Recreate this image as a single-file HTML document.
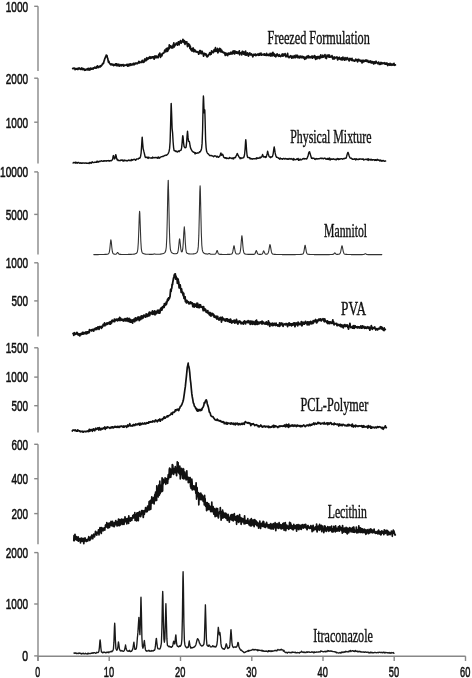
<!DOCTYPE html>
<html><head><meta charset="utf-8"><style>
html,body{margin:0;padding:0;background:#fff;}
svg{display:block;filter:grayscale(1);}
.ax line{stroke:#888;stroke-width:1.4;}
.tk text{font-family:"Liberation Sans",sans-serif;font-size:14.5px;fill:#111;stroke:#111;stroke-width:0.55;}
.lb text{font-family:"Liberation Serif",serif;font-size:19px;fill:#111;stroke:#111;stroke-width:0.4;}
.c{fill:none;stroke-linejoin:round;stroke-linecap:round;}
</style></head><body>
<svg width="472" height="678" viewBox="0 0 472 678">
<rect width="472" height="678" fill="#fff"/>
<g class="ax"><line x1="38.0" y1="6.3" x2="38.0" y2="71.1"/><line x1="38.0" y1="78.2" x2="38.0" y2="163.6"/><line x1="38.0" y1="171.9" x2="38.0" y2="254.6"/><line x1="38.0" y1="262.8" x2="38.0" y2="336.4"/><line x1="38.0" y1="347.8" x2="38.0" y2="432.6"/><line x1="38.0" y1="444.3" x2="38.0" y2="544.3"/><line x1="38.0" y1="552.6" x2="38.0" y2="661"/><line x1="34.2" y1="6.3" x2="38.0" y2="6.3"/><line x1="34.2" y1="78.2" x2="38.0" y2="78.2"/><line x1="34.2" y1="122.2" x2="38.0" y2="122.2"/><line x1="34.2" y1="171.9" x2="38.0" y2="171.9"/><line x1="34.2" y1="214.4" x2="38.0" y2="214.4"/><line x1="34.2" y1="262.8" x2="38.0" y2="262.8"/><line x1="34.2" y1="300.9" x2="38.0" y2="300.9"/><line x1="34.2" y1="347.8" x2="38.0" y2="347.8"/><line x1="34.2" y1="377.1" x2="38.0" y2="377.1"/><line x1="34.2" y1="405.7" x2="38.0" y2="405.7"/><line x1="34.2" y1="444.3" x2="38.0" y2="444.3"/><line x1="34.2" y1="478.7" x2="38.0" y2="478.7"/><line x1="34.2" y1="513.6" x2="38.0" y2="513.6"/><line x1="34.2" y1="552.6" x2="38.0" y2="552.6"/><line x1="34.2" y1="604" x2="38.0" y2="604"/><line x1="34.2" y1="655.9" x2="38.0" y2="655.9"/><line x1="38.0" y1="656.2" x2="465.6" y2="656.2"/><line x1="38.0" y1="656.2" x2="38.0" y2="661"/><line x1="109.2" y1="656.2" x2="109.2" y2="661"/><line x1="180.5" y1="656.2" x2="180.5" y2="661"/><line x1="251.8" y1="656.2" x2="251.8" y2="661"/><line x1="323.0" y1="656.2" x2="323.0" y2="661"/><line x1="394.2" y1="656.2" x2="394.2" y2="661"/><line x1="465.5" y1="656.2" x2="465.5" y2="661"/></g>
<g class="tk"><text x="5.8" y="11.6" textLength="22.3" lengthAdjust="spacingAndGlyphs">1000</text><text x="5.8" y="83.5" textLength="22.3" lengthAdjust="spacingAndGlyphs">2000</text><text x="5.8" y="127.5" textLength="22.3" lengthAdjust="spacingAndGlyphs">1000</text><text x="0.1" y="177.2" textLength="28.0" lengthAdjust="spacingAndGlyphs">10000</text><text x="5.8" y="219.7" textLength="22.3" lengthAdjust="spacingAndGlyphs">5000</text><text x="5.8" y="268.1" textLength="22.3" lengthAdjust="spacingAndGlyphs">1000</text><text x="11.5" y="306.2" textLength="16.6" lengthAdjust="spacingAndGlyphs">500</text><text x="5.8" y="353.1" textLength="22.3" lengthAdjust="spacingAndGlyphs">1500</text><text x="5.8" y="382.4" textLength="22.3" lengthAdjust="spacingAndGlyphs">1000</text><text x="11.5" y="411.0" textLength="16.6" lengthAdjust="spacingAndGlyphs">500</text><text x="11.5" y="449.6" textLength="16.6" lengthAdjust="spacingAndGlyphs">600</text><text x="11.5" y="484.0" textLength="16.6" lengthAdjust="spacingAndGlyphs">400</text><text x="11.5" y="518.9" textLength="16.6" lengthAdjust="spacingAndGlyphs">200</text><text x="5.8" y="557.9" textLength="22.3" lengthAdjust="spacingAndGlyphs">2000</text><text x="5.8" y="609.3" textLength="22.3" lengthAdjust="spacingAndGlyphs">1000</text><text x="22.3" y="661.2" textLength="5.8" lengthAdjust="spacingAndGlyphs">0</text><text x="35.3" y="676.9" textLength="4.9" lengthAdjust="spacingAndGlyphs">0</text><text x="103.8" y="676.9" textLength="10.3" lengthAdjust="spacingAndGlyphs">10</text><text x="175.1" y="676.9" textLength="10.3" lengthAdjust="spacingAndGlyphs">20</text><text x="246.3" y="676.9" textLength="10.3" lengthAdjust="spacingAndGlyphs">30</text><text x="317.6" y="676.9" textLength="10.3" lengthAdjust="spacingAndGlyphs">40</text><text x="388.8" y="676.9" textLength="10.3" lengthAdjust="spacingAndGlyphs">50</text><text x="460.1" y="676.9" textLength="10.3" lengthAdjust="spacingAndGlyphs">60</text></g>
<g class="lb"><text x="267.6" y="43.6" textLength="102.2" lengthAdjust="spacingAndGlyphs">Freezed Formulation</text><text x="290.2" y="143.0" textLength="81.3" lengthAdjust="spacingAndGlyphs">Physical Mixture</text><text x="324.1" y="237.2" textLength="43.0" lengthAdjust="spacingAndGlyphs">Mannitol</text><text x="341.1" y="314.6" textLength="24.9" lengthAdjust="spacingAndGlyphs">PVA</text><text x="300.5" y="411.4" textLength="67.7" lengthAdjust="spacingAndGlyphs">PCL-Polymer</text><text x="327.7" y="518.3" textLength="39.2" lengthAdjust="spacingAndGlyphs">Lecithin</text><text x="313.2" y="642.1" textLength="59.7" lengthAdjust="spacingAndGlyphs">Itraconazole</text></g>
<g><polyline class="c" stroke="#111" stroke-width="1.7" points="72.7,68.5 73.0,68.7 73.4,68.4 73.7,68.1 74.1,68.4 74.4,68.1 74.8,68.8 75.1,69.6 75.5,68.5 75.8,68.5 76.2,69.2 76.5,69.1 76.9,69.0 77.2,68.4 77.6,69.0 77.9,69.5 78.3,68.3 78.6,68.9 79.0,68.0 79.3,68.4 79.7,68.1 80.0,69.1 80.4,68.6 80.7,69.5 81.1,69.5 81.4,69.3 81.8,67.9 82.1,69.1 82.5,69.5 82.8,69.6 83.2,68.6 83.5,69.3 83.9,69.0 84.2,69.2 84.6,70.3 84.9,69.2 85.3,69.7 85.6,70.2 86.0,69.3 86.3,69.5 86.7,69.6 87.0,69.5 87.4,68.7 87.7,69.4 88.1,70.1 88.4,68.3 88.8,69.7 89.1,69.1 89.5,68.6 89.8,70.2 90.2,69.3 90.5,68.1 90.9,68.8 91.2,69.0 91.6,68.5 91.9,69.0 92.3,68.5 92.6,68.8 93.0,69.2 93.3,67.9 93.7,68.3 94.0,67.8 94.4,68.1 94.7,67.2 95.1,67.5 95.4,67.6 95.8,68.1 96.1,68.2 96.5,66.6 96.8,66.8 97.2,67.6 97.5,65.9 97.9,66.7 98.2,66.8 98.6,67.5 98.9,67.1 99.3,66.3 99.6,66.2 100.0,66.1 100.3,67.0 100.7,65.7 101.0,65.6 101.4,65.8 101.7,65.2 102.1,64.9 102.4,63.9 102.8,64.0 103.1,63.1 103.5,63.3 103.8,62.0 104.2,60.6 104.5,59.9 104.9,58.3 105.2,58.1 105.6,56.6 105.9,56.5 106.2,55.2 106.3,56.2 106.6,55.3 107.0,55.7 107.3,57.6 107.7,58.2 108.0,59.8 108.4,62.1 108.7,61.1 109.1,61.9 109.4,63.1 109.8,63.8 110.1,63.8 110.5,64.0 110.8,64.8 111.2,64.8 111.5,64.0 111.9,64.7 112.2,64.8 112.6,64.2 112.9,65.1 113.3,64.4 113.6,65.6 114.0,65.1 114.3,65.1 114.7,64.7 115.0,65.0 115.4,63.8 115.7,64.4 116.1,65.3 116.4,63.8 116.8,65.7 117.1,64.1 117.5,65.6 117.8,64.6 118.2,65.7 118.5,65.3 118.9,64.2 119.2,66.0 119.6,66.1 119.9,65.2 120.3,65.1 120.6,65.1 121.0,64.6 121.3,65.9 121.7,64.9 122.0,65.2 122.4,64.8 122.7,64.9 123.1,64.5 123.4,66.1 123.8,65.2 124.1,65.9 124.5,65.3 124.8,64.9 125.2,65.1 125.5,65.0 125.9,65.3 126.2,65.0 126.6,65.0 126.9,64.3 127.3,64.7 127.6,66.2 128.0,64.7 128.3,64.4 128.7,65.3 129.0,65.9 129.4,64.1 129.7,64.9 130.1,64.6 130.4,63.8 130.8,65.4 131.1,64.9 131.5,64.9 131.8,64.2 132.2,64.9 132.5,64.1 132.9,64.3 133.2,63.5 133.6,63.3 133.9,64.9 134.3,63.6 134.6,64.0 135.0,63.7 135.3,63.3 135.7,63.1 136.0,63.8 136.4,63.0 136.7,63.0 137.1,63.0 137.4,63.7 137.8,63.2 138.1,62.9 138.5,62.1 138.8,61.4 139.2,63.0 139.5,62.9 139.9,62.0 140.2,62.3 140.6,62.4 140.9,62.3 141.3,62.3 141.6,61.1 142.0,62.5 142.3,60.3 142.7,61.8 143.0,61.4 143.4,61.6 143.7,62.3 144.1,61.9 144.4,59.6 144.8,59.0 145.1,60.9 145.5,59.3 145.8,59.9 146.2,60.5 146.5,58.3 146.9,57.7 147.2,59.6 147.6,59.2 147.9,58.8 148.3,58.9 148.6,58.0 149.0,57.3 149.3,58.3 149.7,57.4 150.0,56.7 150.4,58.4 150.7,57.9 151.1,58.2 151.4,57.0 151.8,57.2 152.1,56.8 152.5,56.9 152.8,57.8 153.2,56.9 153.5,57.8 153.9,57.8 154.2,59.2 154.6,56.1 154.9,58.1 155.3,57.1 155.6,57.2 156.0,55.8 156.3,56.6 156.7,57.7 157.0,56.9 157.4,56.9 157.7,56.5 158.1,57.7 158.4,56.5 158.8,54.4 159.1,55.7 159.5,54.4 159.8,53.1 160.2,55.6 160.5,57.3 160.9,56.0 161.2,54.4 161.6,54.2 161.9,55.8 162.3,54.3 162.6,53.8 163.0,53.2 163.3,52.9 163.7,53.2 164.0,52.5 164.4,51.8 164.7,50.1 165.1,51.6 165.4,50.0 165.8,51.8 166.1,48.8 166.5,49.9 166.8,49.8 167.2,48.0 167.5,51.3 167.9,50.8 168.2,48.2 168.6,49.5 168.9,48.8 169.3,44.8 169.6,48.1 170.0,47.5 170.3,47.5 170.7,45.8 171.0,46.6 171.4,46.5 171.7,48.0 172.1,46.7 172.4,46.1 172.8,47.8 173.1,44.9 173.5,44.9 173.8,42.8 174.2,47.0 174.5,46.0 174.9,45.7 175.2,45.1 175.6,44.1 175.9,44.0 176.3,43.1 176.6,43.0 177.0,43.2 177.3,45.2 177.7,43.7 178.0,42.8 178.4,41.9 178.7,41.8 179.1,44.8 179.4,43.2 179.8,42.5 180.1,41.8 180.5,40.6 180.8,42.0 181.2,43.2 181.5,41.3 181.9,41.5 182.2,41.4 182.6,41.8 182.9,39.3 183.3,41.2 183.6,40.2 184.0,42.7 184.3,40.6 184.7,42.7 185.0,44.3 185.4,41.9 185.7,41.7 186.1,43.0 186.4,43.0 186.8,41.8 187.1,44.1 187.5,46.7 187.8,44.0 188.2,44.4 188.5,43.7 188.9,46.0 189.2,44.3 189.6,45.0 189.9,48.4 190.3,46.1 190.6,49.0 191.0,49.8 191.3,48.5 191.7,49.1 192.0,51.1 192.4,48.8 192.7,48.5 193.1,47.9 193.4,49.8 193.8,51.7 194.1,51.4 194.5,49.5 194.8,49.8 195.2,50.5 195.5,51.7 195.9,51.4 196.2,51.9 196.6,52.1 196.9,51.5 197.3,51.9 197.6,52.2 198.0,52.0 198.3,52.7 198.7,54.2 199.0,52.9 199.4,52.4 199.7,50.6 200.1,52.9 200.4,50.5 200.8,51.2 201.1,53.7 201.5,53.6 201.8,52.9 202.2,51.4 202.5,53.0 202.9,52.9 203.2,54.4 203.6,56.2 203.9,54.3 204.3,53.5 204.6,53.3 205.0,54.6 205.3,54.6 205.7,53.8 206.0,55.3 206.4,54.2 206.7,56.6 207.1,56.7 207.4,56.9 207.8,55.5 208.1,56.1 208.5,55.2 208.8,54.6 209.2,54.4 209.5,53.1 209.9,52.7 210.2,54.7 210.6,53.4 210.9,53.5 211.3,54.0 211.6,50.8 212.0,51.6 212.3,52.4 212.7,52.4 213.0,51.3 213.4,52.6 213.7,51.4 214.1,49.6 214.4,49.6 214.8,51.4 215.1,50.7 215.5,47.7 215.8,51.3 216.2,50.3 216.5,51.3 216.9,49.3 217.2,49.5 217.6,48.5 217.9,52.9 218.3,49.8 218.6,51.9 219.0,49.3 219.3,50.3 219.7,48.3 220.0,49.8 220.4,51.4 220.7,49.2 221.1,52.1 221.4,51.6 221.8,50.4 222.1,51.3 222.5,51.6 222.8,52.4 223.2,52.1 223.5,52.1 223.9,53.0 224.2,52.6 224.6,52.6 224.9,54.2 225.3,55.4 225.6,53.1 226.0,54.6 226.3,53.8 226.7,53.4 227.0,55.2 227.4,53.7 227.7,55.7 228.1,53.3 228.4,54.4 228.8,53.6 229.1,53.0 229.5,54.3 229.8,53.5 230.2,54.1 230.5,53.4 230.9,52.2 231.2,53.2 231.6,53.2 231.9,54.1 232.3,52.0 232.6,52.9 233.0,51.0 233.3,53.5 233.7,51.7 234.0,50.9 234.4,52.7 234.7,54.0 235.1,51.2 235.4,51.6 235.8,52.0 236.1,51.6 236.5,53.2 236.8,51.9 237.2,52.0 237.5,53.4 237.9,52.0 238.2,53.3 238.6,51.8 238.9,51.5 239.3,50.8 239.6,54.8 240.0,52.5 240.3,53.1 240.7,52.8 241.0,53.0 241.4,52.9 241.7,54.8 242.1,51.7 242.4,51.3 242.8,52.0 243.1,51.7 243.5,54.0 243.8,54.2 244.2,52.5 244.5,52.1 244.9,53.3 245.2,55.2 245.6,51.0 245.9,54.5 246.3,53.0 246.6,55.2 247.0,53.2 247.3,54.1 247.7,53.0 248.0,53.6 248.4,56.1 248.7,55.5 249.1,54.3 249.4,53.9 249.8,52.9 250.1,54.4 250.5,54.8 250.8,54.8 251.2,54.8 251.5,53.8 251.9,54.8 252.2,54.9 252.6,56.2 252.9,56.8 253.3,54.9 253.6,54.3 254.0,55.0 254.3,54.5 254.7,54.4 255.0,55.0 255.4,54.1 255.7,55.7 256.1,55.0 256.4,55.3 256.8,54.9 257.1,54.4 257.5,54.1 257.8,54.8 258.2,54.5 258.5,55.3 258.9,55.1 259.2,53.7 259.6,55.1 259.9,53.7 260.3,54.4 260.6,54.7 261.0,53.0 261.3,55.1 261.7,55.2 262.0,54.9 262.4,54.6 262.7,54.6 263.1,54.1 263.4,54.7 263.8,54.5 264.1,55.1 264.5,53.8 264.8,55.2 265.2,55.1 265.5,54.8 265.9,54.6 266.2,55.5 266.6,53.3 266.9,55.4 267.3,55.2 267.6,55.2 268.0,55.3 268.3,54.3 268.7,54.7 269.0,55.6 269.4,55.4 269.7,55.1 270.1,53.4 270.4,55.5 270.8,56.1 271.1,55.9 271.5,55.2 271.8,53.4 272.2,55.8 272.5,54.8 272.9,52.4 273.2,55.3 273.6,53.4 273.9,53.6 274.3,54.3 274.6,56.2 275.0,54.6 275.3,55.3 275.7,56.8 276.0,56.6 276.4,55.0 276.7,54.9 277.1,53.9 277.4,54.5 277.8,55.6 278.1,55.6 278.5,55.4 278.8,56.3 279.2,54.6 279.5,55.3 279.9,56.1 280.2,56.0 280.6,56.5 280.9,55.8 281.3,55.2 281.6,55.9 282.0,54.6 282.3,54.0 282.7,56.2 283.0,55.6 283.4,55.9 283.7,54.0 284.1,55.4 284.4,55.2 284.8,54.9 285.1,53.6 285.5,55.5 285.8,56.7 286.2,56.2 286.5,55.3 286.9,55.9 287.2,56.7 287.6,53.4 287.9,55.9 288.3,56.5 288.6,56.7 289.0,57.7 289.3,57.2 289.7,56.4 290.0,56.5 290.4,56.9 290.7,55.7 291.1,56.2 291.4,57.1 291.8,58.1 292.1,56.2 292.5,56.3 292.8,56.6 293.2,57.7 293.5,56.4 293.9,57.8 294.2,55.6 294.6,56.4 294.9,56.4 295.3,57.3 295.6,57.6 296.0,55.2 296.3,55.8 296.7,57.0 297.0,56.1 297.4,55.3 297.7,57.7 298.1,57.3 298.4,57.3 298.8,56.4 299.1,57.8 299.5,56.7 299.8,57.9 300.2,56.1 300.5,56.2 300.9,57.2 301.2,56.4 301.6,57.7 301.9,57.3 302.3,56.3 302.6,57.2 303.0,56.9 303.3,58.0 303.7,56.7 304.0,56.9 304.4,58.4 304.7,59.3 305.1,59.1 305.4,57.3 305.8,57.5 306.1,58.6 306.5,57.1 306.8,56.3 307.2,57.3 307.5,57.6 307.9,56.4 308.2,55.7 308.6,55.9 308.9,57.8 309.3,56.5 309.6,57.0 310.0,57.3 310.3,57.7 310.7,56.8 311.0,57.6 311.4,56.3 311.7,56.8 312.1,56.1 312.4,58.1 312.8,57.0 313.1,56.4 313.5,56.7 313.8,56.8 314.2,57.6 314.5,55.5 314.9,56.0 315.2,56.6 315.6,59.3 315.9,57.8 316.3,56.8 316.6,57.6 317.0,58.8 317.3,56.7 317.7,56.6 318.0,58.0 318.4,57.3 318.7,57.5 319.1,56.4 319.4,58.6 319.8,58.4 320.1,57.4 320.5,57.5 320.8,54.9 321.2,57.4 321.5,56.6 321.9,57.2 322.2,57.4 322.6,56.4 322.9,55.2 323.3,57.1 323.6,56.0 324.0,56.4 324.3,56.1 324.7,56.4 325.0,54.5 325.4,57.8 325.7,56.9 326.1,57.7 326.4,58.5 326.8,56.7 327.1,55.0 327.5,55.8 327.8,55.5 328.2,56.2 328.5,56.8 328.9,54.9 329.2,57.1 329.6,55.4 329.9,57.1 330.3,56.8 330.6,56.7 331.0,57.0 331.3,56.6 331.7,56.6 332.0,55.6 332.4,57.2 332.7,58.9 333.1,59.1 333.4,58.6 333.8,58.1 334.1,56.9 334.5,58.8 334.8,57.5 335.2,57.6 335.5,57.4 335.9,57.8 336.2,57.4 336.6,57.7 336.9,56.9 337.3,57.6 337.6,60.0 338.0,58.0 338.3,57.9 338.7,58.6 339.0,58.8 339.4,57.2 339.7,58.1 340.1,59.1 340.4,58.6 340.8,58.5 341.1,59.8 341.5,57.9 341.8,58.6 342.2,58.2 342.5,59.9 342.9,57.0 343.2,58.2 343.6,58.4 343.9,59.4 344.3,59.4 344.6,60.1 345.0,57.7 345.3,59.7 345.7,58.9 346.0,58.6 346.4,59.7 346.7,58.5 347.1,57.6 347.4,59.0 347.8,58.2 348.1,58.9 348.5,59.8 348.8,59.8 349.2,60.9 349.5,59.5 349.9,58.4 350.2,59.1 350.6,59.1 350.9,58.9 351.3,60.3 351.6,59.4 352.0,58.4 352.3,60.6 352.7,60.0 353.0,60.4 353.4,60.2 353.7,60.7 354.1,60.2 354.4,61.2 354.8,60.6 355.1,60.6 355.5,60.7 355.8,59.2 356.2,60.3 356.5,60.3 356.9,60.7 357.2,59.5 357.6,61.9 357.9,60.7 358.3,59.7 358.6,59.3 359.0,60.5 359.3,60.7 359.7,60.2 360.0,60.9 360.4,60.4 360.7,61.3 361.1,60.4 361.4,60.9 361.8,61.8 362.1,63.0 362.5,60.3 362.8,60.7 363.2,60.5 363.5,61.8 363.9,60.3 364.2,60.9 364.6,61.3 364.9,60.6 365.3,60.6 365.6,61.0 366.0,59.8 366.3,60.4 366.7,61.2 367.0,61.6 367.4,61.4 367.7,60.3 368.1,61.3 368.4,62.3 368.8,62.1 369.1,61.7 369.5,61.1 369.8,62.3 370.2,61.4 370.5,61.0 370.9,61.3 371.2,63.0 371.6,62.2 371.9,62.9 372.3,61.7 372.6,62.8 373.0,61.7 373.3,62.1 373.7,64.0 374.0,62.8 374.4,61.9 374.7,62.3 375.1,62.6 375.4,63.3 375.8,62.1 376.1,61.2 376.5,62.3 376.8,62.6 377.2,62.7 377.5,63.6 377.9,62.9 378.2,63.3 378.6,62.0 378.9,63.4 379.3,64.4 379.6,63.5 380.0,63.1 380.3,63.1 380.7,64.3 381.0,62.4 381.4,63.1 381.7,63.5 382.1,63.7 382.4,63.0 382.8,63.5 383.1,63.2 383.5,63.5 383.8,63.3 384.2,62.7 384.5,63.5 384.9,64.2 385.2,63.0 385.6,63.5 385.9,64.2 386.3,63.0 386.6,63.9 387.0,63.1 387.3,64.6 387.7,65.5 388.0,65.3 388.4,63.9 388.7,64.5 389.1,64.2 389.4,64.2 389.8,65.2 390.1,63.4 390.5,65.0 390.8,64.3 391.2,65.3 391.5,64.5 391.9,64.0 392.2,64.7 392.6,65.0 392.9,64.6 393.3,64.9 393.6,64.3 394.0,63.3 394.3,65.3 394.7,65.2 395.0,64.9 395.4,64.9"/><polyline class="c" stroke="#111" stroke-width="1.4" points="73.1,163.0 73.6,162.5 74.1,162.4 74.6,162.6 75.1,163.1 75.6,162.2 76.1,163.2 76.6,162.5 77.1,162.4 77.6,163.2 78.1,162.8 78.6,162.4 79.1,162.8 79.6,163.2 80.1,163.3 80.6,162.8 81.1,163.1 81.6,163.3 82.1,162.8 82.6,163.2 83.1,163.1 83.6,162.9 84.1,163.0 84.6,163.2 85.1,163.2 85.6,163.0 86.1,163.0 86.6,163.4 87.1,163.1 87.6,163.3 88.1,163.3 88.6,163.0 89.1,163.6 89.6,162.4 90.1,162.9 90.6,162.5 91.1,163.2 91.6,163.1 92.1,161.8 92.6,162.0 93.1,162.6 93.6,162.6 94.1,162.5 94.6,162.1 95.1,162.3 95.6,162.3 96.1,162.0 96.6,162.3 97.1,161.1 97.6,162.1 98.1,161.4 98.6,162.0 99.1,161.5 99.6,161.2 100.1,161.6 100.6,161.1 101.1,161.0 101.6,160.7 102.1,161.1 102.6,161.2 103.1,161.3 103.6,160.8 104.1,161.2 104.6,160.8 105.1,160.7 105.6,161.0 106.1,161.2 106.6,160.7 107.1,160.7 107.6,160.8 108.1,160.8 108.6,160.5 109.1,161.2 109.6,160.7 110.1,160.9 110.6,160.5 111.1,160.8 111.6,160.6 112.1,159.9 112.6,159.6 113.1,156.3 113.4,155.6 113.6,155.8 114.1,157.9 114.6,158.9 115.1,158.1 115.6,155.1 115.8,154.6 116.1,155.7 116.6,158.0 117.1,159.8 117.6,159.5 118.1,160.6 118.6,160.3 119.1,160.4 119.6,160.6 120.1,160.7 120.6,160.2 121.1,160.0 121.6,160.3 122.1,159.9 122.6,160.3 123.1,161.2 123.6,160.2 124.1,160.8 124.6,160.1 125.1,160.7 125.6,160.4 126.1,160.5 126.6,160.7 127.1,161.1 127.6,160.5 128.1,160.5 128.6,160.1 129.1,160.6 129.6,160.2 130.1,160.5 130.6,160.2 131.1,160.7 131.6,159.4 132.1,159.9 132.6,160.2 133.1,159.7 133.6,159.5 134.1,159.6 134.6,159.2 135.1,159.6 135.6,160.3 136.1,159.8 136.6,158.9 137.1,158.9 137.6,158.9 138.1,159.2 138.6,158.4 139.1,158.2 139.6,158.4 140.1,157.8 140.6,156.2 141.1,153.1 141.6,146.1 142.1,138.1 142.2,137.1 142.6,142.3 143.1,148.3 143.6,150.3 143.8,151.2 144.1,152.4 144.6,154.5 145.1,156.8 145.6,157.5 146.1,157.2 146.6,157.3 147.1,157.7 147.6,157.3 148.1,158.4 148.6,157.1 149.1,157.6 149.6,157.9 150.1,157.9 150.6,158.0 151.1,158.0 151.6,157.8 152.1,158.3 152.6,157.1 153.1,157.8 153.6,157.5 154.1,157.8 154.6,157.8 155.1,157.4 155.6,157.4 156.1,157.9 156.6,157.7 157.1,157.3 157.6,158.2 158.1,158.3 158.6,156.9 159.1,157.5 159.6,158.2 160.1,157.5 160.6,157.2 161.1,156.9 161.6,156.6 162.1,156.6 162.6,156.3 163.1,156.6 163.6,156.1 164.1,155.9 164.6,155.4 165.1,155.6 165.6,155.1 166.1,155.1 166.6,155.2 167.1,154.6 167.6,154.2 168.1,153.6 168.6,152.6 169.1,151.2 169.6,148.4 170.1,141.8 170.6,124.5 171.1,105.0 171.2,103.4 171.6,113.0 172.1,128.3 172.6,132.8 173.1,141.7 173.6,147.6 174.1,150.6 174.6,150.8 175.1,150.7 175.6,151.4 176.1,151.0 176.6,151.7 177.1,152.0 177.6,151.8 178.1,151.0 178.6,151.0 179.1,151.7 179.6,150.9 180.1,150.5 180.6,150.4 181.1,150.1 181.6,147.9 182.1,143.1 182.6,136.6 182.8,135.6 183.1,137.2 183.6,143.1 184.1,146.6 184.6,147.2 185.1,147.8 185.6,147.6 186.1,147.2 186.6,142.6 187.1,135.6 187.5,131.2 187.6,131.7 188.1,137.9 188.6,141.3 189.1,141.5 189.3,141.4 189.6,142.7 190.1,146.0 190.6,148.1 191.1,149.1 191.6,150.2 192.1,151.0 192.6,151.7 193.1,151.7 193.6,152.3 194.1,152.1 194.6,152.7 195.1,153.9 195.6,152.6 196.1,153.2 196.6,153.3 197.1,153.1 197.6,152.8 198.1,153.0 198.6,152.8 199.1,152.6 199.6,151.7 200.1,152.0 200.6,151.1 201.1,150.2 201.6,148.4 202.1,143.4 202.6,129.8 203.1,104.7 203.4,96.0 203.6,98.4 204.1,112.9 204.6,110.6 204.8,109.9 205.1,119.7 205.6,139.7 206.1,147.6 206.6,151.3 207.1,152.5 207.6,153.5 208.1,153.6 208.6,154.3 209.1,154.9 209.6,155.5 210.1,155.7 210.6,155.5 211.1,155.6 211.6,155.5 212.1,156.0 212.6,155.9 213.1,156.3 213.6,156.7 214.1,156.2 214.6,155.8 215.1,156.1 215.6,156.0 216.1,156.2 216.6,157.1 217.1,156.8 217.6,156.3 218.1,157.1 218.6,157.3 219.1,156.7 219.6,156.3 220.1,155.6 220.6,153.8 220.9,153.0 221.1,153.5 221.6,155.2 222.1,154.9 222.5,154.3 222.6,154.2 223.1,155.3 223.6,157.0 224.1,157.6 224.6,157.6 225.1,158.2 225.6,157.8 226.1,157.7 226.6,158.6 227.1,158.3 227.6,158.2 228.1,158.5 228.6,158.6 229.1,158.3 229.6,157.4 230.1,158.0 230.6,158.1 231.1,157.9 231.6,158.4 232.1,158.7 232.6,158.1 233.1,157.8 233.6,158.9 234.1,157.9 234.6,157.5 235.1,157.7 235.6,157.2 236.1,155.9 236.6,155.2 237.1,153.7 237.3,153.5 237.6,154.1 238.1,155.4 238.6,156.1 239.1,157.2 239.6,157.5 240.1,158.8 240.6,157.7 241.1,158.4 241.6,157.9 242.1,157.9 242.6,158.1 243.1,157.9 243.6,157.7 244.1,156.6 244.6,154.2 245.1,148.8 245.6,141.0 245.8,139.7 246.1,142.8 246.6,150.7 247.1,155.5 247.6,157.4 248.1,157.6 248.6,157.4 249.1,157.7 249.6,157.8 250.1,158.9 250.6,158.2 251.1,158.9 251.6,158.8 252.1,159.2 252.6,159.0 253.1,158.6 253.6,158.6 254.1,158.7 254.6,158.8 255.1,158.5 255.6,158.6 256.1,159.1 256.6,157.8 257.1,158.4 257.6,157.9 258.1,158.2 258.6,158.3 259.1,157.9 259.6,158.1 260.1,157.1 260.6,157.9 261.1,157.1 261.6,157.1 262.1,156.2 262.6,154.4 262.7,155.0 263.1,155.8 263.6,157.0 264.1,157.0 264.6,157.1 265.1,156.6 265.6,157.5 266.1,157.3 266.6,155.9 267.1,154.0 267.6,151.3 267.8,151.8 268.1,153.2 268.6,154.9 269.1,156.6 269.6,157.1 270.1,156.8 270.6,157.7 271.1,156.8 271.6,157.0 272.1,156.9 272.6,156.2 273.1,154.1 273.6,150.7 274.1,147.3 274.2,147.0 274.6,149.2 275.1,152.7 275.6,155.1 276.1,156.4 276.6,157.3 277.1,157.2 277.6,157.6 278.1,157.6 278.6,158.4 279.1,158.5 279.6,159.2 280.1,158.0 280.6,158.4 281.1,159.0 281.6,158.6 282.1,158.6 282.6,159.3 283.1,158.7 283.6,158.4 284.1,158.4 284.6,159.0 285.1,159.0 285.6,158.4 286.1,158.6 286.6,159.1 287.1,159.2 287.6,158.7 288.1,159.2 288.6,159.2 289.1,158.4 289.6,158.9 290.1,159.2 290.6,158.9 291.1,158.4 291.6,159.0 292.1,159.4 292.6,159.7 293.1,158.4 293.6,160.1 294.1,158.8 294.6,159.6 295.1,159.7 295.6,159.6 296.1,159.3 296.6,158.9 297.1,159.5 297.6,159.1 298.1,158.4 298.6,160.3 299.1,159.6 299.6,160.0 300.1,159.0 300.6,159.9 301.1,159.9 301.6,159.9 302.1,159.3 302.6,158.8 303.1,159.1 303.6,158.4 304.1,158.5 304.6,159.0 305.1,158.6 305.6,158.7 306.1,158.6 306.6,159.0 307.1,158.3 307.6,156.9 308.1,155.9 308.6,153.3 309.1,151.9 309.3,152.1 309.6,151.7 310.1,153.8 310.6,155.3 311.1,157.1 311.6,158.4 312.1,157.9 312.6,158.5 313.1,158.2 313.6,158.2 314.1,158.2 314.6,159.2 315.1,159.5 315.6,158.9 316.1,158.5 316.6,159.0 317.1,158.6 317.6,159.0 318.1,158.8 318.6,158.8 319.1,158.9 319.6,158.5 320.1,158.5 320.6,158.1 321.1,158.5 321.6,158.2 322.1,158.6 322.6,158.3 323.1,158.6 323.6,158.8 324.1,158.1 324.6,158.3 325.1,158.2 325.6,158.9 326.1,159.3 326.6,159.0 327.1,158.6 327.6,159.3 328.1,158.3 328.6,159.4 329.1,158.7 329.6,158.0 330.1,160.0 330.6,159.6 331.1,158.8 331.6,159.2 332.1,159.1 332.6,159.3 333.1,158.7 333.6,159.0 334.1,159.4 334.6,159.3 335.1,159.6 335.6,159.2 336.1,160.0 336.6,158.9 337.1,159.3 337.6,158.5 338.1,158.7 338.6,159.6 339.1,158.8 339.6,159.3 340.1,159.1 340.6,158.7 341.1,158.9 341.6,158.8 342.1,158.8 342.6,159.2 343.1,159.1 343.6,158.6 344.1,158.4 344.6,158.7 345.1,158.3 345.6,158.4 346.1,158.2 346.6,156.5 347.1,154.6 347.6,153.0 347.9,152.4 348.1,152.5 348.6,153.9 349.1,155.7 349.6,156.9 350.1,158.1 350.6,158.1 351.1,158.4 351.6,158.2 352.1,159.2 352.6,158.9 353.1,159.4 353.6,159.1 354.1,159.4 354.6,158.8 355.1,159.2 355.6,159.9 356.1,158.6 356.6,159.4 357.1,159.6 357.6,159.2 358.1,159.4 358.6,159.6 359.1,158.9 359.6,159.3 360.1,158.9 360.6,159.0 361.1,159.0 361.6,159.2 362.1,159.3 362.6,159.4 363.1,158.8 363.6,160.0 364.1,159.8 364.6,159.6 365.1,159.2 365.6,159.4 366.1,159.6 366.6,159.6 367.1,158.8 367.6,159.7 368.1,160.5 368.6,158.8 369.1,159.9 369.6,159.7 370.1,159.5 370.6,160.1 371.1,159.2 371.6,159.7 372.1,160.2 372.6,159.7 373.1,159.6 373.6,159.9 374.1,159.7 374.6,160.5 375.1,159.7 375.6,160.3 376.1,159.6 376.6,160.4 377.1,160.1 377.6,159.3 378.1,160.3 378.6,159.9 379.1,160.2 379.6,161.0 380.1,160.0 380.6,160.1 381.1,161.1 381.6,160.6 382.1,161.2 382.6,160.8 383.1,160.4 383.6,160.8 384.1,161.3 384.6,161.2 385.1,160.9 385.6,161.0"/><polyline class="c" stroke="#333" stroke-width="1.1" points="93.8,254.6 94.3,254.6 94.8,254.6 95.3,254.6 95.8,254.6 96.3,254.6 96.8,254.6 97.3,254.6 97.8,254.6 98.3,254.6 98.8,254.5 99.3,254.5 99.8,254.5 100.3,254.5 100.8,254.5 101.3,254.5 101.8,254.5 102.3,254.5 102.8,254.5 103.3,254.5 103.8,254.5 104.3,254.5 104.8,254.4 105.3,254.4 105.8,254.4 106.3,254.4 106.8,254.3 107.3,254.2 107.8,254.1 108.3,253.9 108.8,253.4 109.3,252.2 109.8,249.1 110.3,244.0 110.8,239.9 110.9,239.8 111.3,241.9 111.8,247.2 112.3,251.2 112.8,253.1 113.3,253.7 113.8,254.0 114.3,254.1 114.8,254.2 115.3,254.2 115.8,254.2 116.3,254.0 116.8,253.4 117.3,252.7 117.6,252.5 117.8,252.6 118.3,253.3 118.8,254.0 119.3,254.3 119.8,254.4 120.3,254.4 120.8,254.4 121.3,254.5 121.8,254.5 122.3,254.5 122.8,254.5 123.3,254.5 123.8,254.5 124.3,254.5 124.8,254.5 125.3,254.5 125.8,254.5 126.3,254.5 126.8,254.5 127.3,254.5 127.8,254.5 128.3,254.4 128.8,254.4 129.3,254.4 129.8,254.4 130.3,254.4 130.8,254.4 131.3,254.4 131.8,254.3 132.3,254.3 132.8,254.3 133.3,254.2 133.8,254.1 134.3,254.1 134.8,254.0 135.3,253.8 135.8,253.6 136.3,253.4 136.8,252.9 137.3,252.0 137.8,249.5 138.3,242.8 138.8,229.9 139.3,215.0 139.6,211.3 139.8,213.0 140.3,226.7 140.8,240.7 141.3,248.6 141.8,251.6 142.3,252.8 142.8,253.3 143.3,253.6 143.8,253.8 144.3,253.9 144.8,254.0 145.3,254.1 145.8,254.2 146.3,254.2 146.8,254.3 147.3,254.3 147.8,254.3 148.3,254.3 148.8,254.3 149.3,254.4 149.8,254.4 150.3,254.4 150.8,254.4 151.3,254.4 151.8,254.4 152.3,254.4 152.8,254.3 153.3,254.3 153.8,254.1 154.3,254.0 154.6,253.9 154.8,253.9 155.3,254.1 155.8,254.2 156.3,254.3 156.8,254.3 157.3,254.3 157.8,254.3 158.3,254.3 158.8,254.2 159.3,254.2 159.8,254.2 160.3,254.1 160.8,254.1 161.3,254.0 161.8,253.9 162.3,253.8 162.8,253.7 163.3,253.5 163.8,253.3 164.3,253.0 164.8,252.6 165.3,251.9 165.8,250.5 166.3,247.0 166.8,237.5 167.3,217.4 167.8,190.8 168.2,180.2 168.3,180.9 168.8,201.2 169.3,226.7 169.8,242.3 170.3,248.8 170.8,251.1 171.3,252.1 171.8,252.7 172.3,253.0 172.8,253.3 173.3,253.5 173.8,253.6 174.3,253.7 174.8,253.7 175.3,253.7 175.8,253.7 176.3,253.6 176.8,253.5 177.3,253.2 177.8,252.3 178.3,250.0 178.8,245.4 179.3,240.2 179.6,238.9 179.8,239.5 180.3,244.1 180.8,248.9 181.3,251.4 181.8,252.0 182.3,251.4 182.8,248.7 183.3,242.2 183.8,232.5 184.3,226.8 184.8,232.6 185.3,242.4 185.8,249.0 186.3,251.9 186.8,253.0 187.3,253.4 187.8,253.6 188.3,253.8 188.8,253.9 189.3,253.9 189.8,254.0 190.3,254.0 190.8,254.0 191.3,254.0 191.8,254.0 192.3,254.0 192.8,254.0 193.3,253.9 193.8,253.9 194.3,253.8 194.8,253.7 195.3,253.5 195.8,253.3 196.3,253.0 196.8,252.6 197.3,251.9 197.8,250.4 198.3,246.4 198.8,235.9 199.3,215.4 199.8,191.7 200.1,185.9 200.3,188.6 200.8,210.3 201.3,232.6 201.8,245.0 202.3,249.9 202.8,251.7 203.3,252.5 203.8,253.0 204.3,253.3 204.8,253.6 205.3,253.7 205.8,253.9 206.3,253.9 206.8,254.0 207.3,254.1 207.8,254.0 208.3,253.9 208.8,253.6 209.2,253.5 209.3,253.5 209.8,253.8 210.3,254.1 210.8,254.2 211.3,254.3 211.8,254.3 212.3,254.3 212.8,254.3 213.3,254.3 213.8,254.3 214.3,254.3 214.8,254.3 215.3,254.1 215.8,253.6 216.3,252.5 216.8,250.9 217.1,250.5 217.3,250.7 217.8,252.2 218.3,253.5 218.8,254.1 219.3,254.3 219.8,254.4 220.3,254.4 220.8,254.4 221.3,254.4 221.8,254.4 222.3,254.5 222.8,254.5 223.3,254.5 223.8,254.5 224.3,254.5 224.8,254.5 225.3,254.5 225.8,254.5 226.3,254.5 226.8,254.5 227.3,254.4 227.8,254.4 228.3,254.4 228.8,254.4 229.3,254.4 229.8,254.4 230.3,254.3 230.8,254.2 231.3,254.1 231.8,253.9 232.3,253.3 232.8,251.7 233.3,248.9 233.8,246.1 234.0,245.8 234.3,246.5 234.8,249.5 235.3,252.1 235.8,253.4 236.3,253.9 236.8,254.0 237.3,254.0 237.8,254.0 238.3,254.0 238.8,253.9 239.3,253.6 239.8,253.1 240.3,251.4 240.8,247.5 241.3,241.0 241.8,235.9 241.9,235.7 242.3,238.4 242.8,245.1 243.3,250.2 243.8,252.6 244.3,253.5 244.8,253.9 245.3,254.0 245.8,254.2 246.3,254.2 246.8,254.3 247.3,254.3 247.8,254.4 248.3,254.4 248.8,254.4 249.3,254.4 249.8,254.4 250.3,254.4 250.8,254.4 251.3,254.4 251.8,254.4 252.3,254.4 252.8,254.4 253.3,254.4 253.8,254.4 254.3,254.3 254.8,253.9 255.3,253.1 255.8,251.5 256.3,250.5 256.8,251.5 257.3,253.1 257.8,253.9 258.3,254.2 258.8,254.3 259.3,254.4 259.8,254.4 260.3,254.4 260.8,254.4 261.3,254.3 261.8,254.2 262.3,253.9 262.8,253.0 263.3,251.5 263.7,250.9 263.8,250.9 264.3,252.1 264.8,253.3 265.3,254.0 265.8,254.1 266.3,254.2 266.8,254.1 267.3,254.0 267.8,253.6 268.3,252.7 268.8,250.7 269.3,247.6 269.8,244.9 270.0,244.6 270.3,245.3 270.8,248.3 271.3,251.2 271.8,253.0 272.3,253.8 272.8,254.1 273.3,254.2 273.8,254.3 274.3,254.4 274.8,254.4 275.3,254.4 275.8,254.5 276.3,254.5 276.8,254.5 277.3,254.5 277.8,254.5 278.3,254.5 278.8,254.5 279.3,254.5 279.8,254.5 280.3,254.5 280.8,254.5 281.3,254.5 281.8,254.5 282.3,254.6 282.8,254.6 283.3,254.6 283.8,254.6 284.3,254.6 284.8,254.6 285.3,254.6 285.8,254.6 286.3,254.6 286.8,254.6 287.3,254.6 287.8,254.6 288.3,254.6 288.8,254.6 289.3,254.6 289.8,254.6 290.3,254.6 290.8,254.6 291.3,254.6 291.8,254.6 292.3,254.6 292.8,254.6 293.3,254.6 293.8,254.6 294.3,254.6 294.8,254.6 295.3,254.6 295.8,254.5 296.3,254.5 296.8,254.5 297.3,254.5 297.8,254.5 298.3,254.5 298.8,254.5 299.3,254.5 299.8,254.5 300.3,254.5 300.8,254.4 301.3,254.4 301.8,254.3 302.3,254.2 302.8,254.0 303.3,253.5 303.8,252.1 304.3,249.3 304.8,246.1 305.1,245.3 305.3,245.7 305.8,248.6 306.3,251.6 306.8,253.3 307.3,254.0 307.8,254.2 308.3,254.3 308.8,254.4 309.3,254.4 309.8,254.5 310.3,254.5 310.8,254.5 311.3,254.5 311.8,254.5 312.3,254.5 312.8,254.5 313.3,254.5 313.8,254.5 314.3,254.6 314.8,254.6 315.3,254.6 315.8,254.6 316.3,254.6 316.8,254.6 317.3,254.6 317.8,254.6 318.3,254.6 318.8,254.6 319.3,254.6 319.8,254.6 320.3,254.6 320.8,254.6 321.3,254.6 321.8,254.6 322.3,254.6 322.8,254.6 323.3,254.6 323.8,254.6 324.3,254.6 324.8,254.6 325.3,254.6 325.8,254.6 326.3,254.6 326.8,254.6 327.3,254.6 327.8,254.6 328.3,254.6 328.8,254.6 329.3,254.6 329.8,254.5 330.3,254.5 330.8,254.5 331.3,254.5 331.8,254.5 332.3,254.5 332.8,254.4 333.3,254.3 333.8,254.0 334.3,253.3 334.8,252.9 335.3,253.3 335.8,253.9 336.3,254.3 336.8,254.4 337.3,254.4 337.8,254.4 338.3,254.3 338.8,254.2 339.3,254.1 339.8,253.8 340.3,253.0 340.8,251.2 341.3,248.5 341.8,246.1 342.0,245.8 342.3,246.4 342.8,249.1 343.3,251.6 343.8,253.2 344.3,253.9 344.8,254.2 345.3,254.3 345.8,254.4 346.3,254.4 346.8,254.4 347.3,254.5 347.8,254.5 348.3,254.5 348.8,254.5 349.3,254.5 349.8,254.5 350.3,254.5 350.8,254.5 351.3,254.6 351.8,254.6 352.3,254.6 352.8,254.6 353.3,254.6 353.8,254.6 354.3,254.6 354.8,254.6 355.3,254.6 355.8,254.6 356.3,254.6 356.8,254.6 357.3,254.6 357.8,254.6 358.3,254.6 358.8,254.6 359.3,254.6 359.8,254.6 360.3,254.6 360.8,254.6 361.3,254.6 361.8,254.6 362.3,254.6 362.8,254.5 363.3,254.5 363.8,254.4 364.3,254.2 364.8,253.9 365.3,253.6 365.8,253.9 366.3,254.2 366.8,254.5 367.3,254.5 367.8,254.6 368.3,254.6 368.8,254.6 369.3,254.6 369.8,254.6 370.3,254.6 370.8,254.6 371.3,254.6 371.8,254.6 372.3,254.6 372.8,254.6 373.3,254.6 373.8,254.6 374.3,254.6 374.8,254.6 375.3,254.6 375.8,254.6 376.3,254.6 376.8,254.6 377.3,254.6 377.8,254.6 378.3,254.6 378.8,254.6 379.3,254.6 379.8,254.6 380.3,254.6 380.8,254.6 381.3,254.6 381.8,254.6"/><polyline class="c" stroke="#111" stroke-width="1.8" points="73.1,333.6 73.4,333.2 73.8,335.4 74.1,333.8 74.5,332.8 74.8,333.4 75.2,334.4 75.5,334.4 75.9,333.7 76.2,333.3 76.6,333.9 76.9,332.4 77.3,332.8 77.6,334.6 78.0,333.5 78.3,334.3 78.7,335.0 79.0,334.6 79.4,334.0 79.7,335.9 80.1,334.6 80.4,333.8 80.8,334.7 81.1,334.5 81.5,333.4 81.8,334.2 82.2,334.0 82.5,332.4 82.9,334.0 83.2,334.0 83.6,333.7 83.9,332.5 84.3,333.5 84.6,333.6 85.0,333.6 85.3,332.3 85.7,333.7 86.0,331.9 86.4,332.7 86.7,333.8 87.1,332.0 87.4,332.0 87.8,333.2 88.1,331.8 88.5,331.7 88.8,332.0 89.2,332.6 89.5,329.6 89.9,330.6 90.2,330.3 90.6,330.1 90.9,330.1 91.3,330.0 91.6,330.9 92.0,329.7 92.3,330.4 92.7,330.5 93.0,329.3 93.4,329.9 93.7,331.1 94.1,329.8 94.4,328.8 94.8,329.2 95.1,328.3 95.5,329.2 95.8,329.5 96.2,327.9 96.5,328.3 96.9,329.3 97.2,327.7 97.6,328.2 97.9,326.9 98.3,327.0 98.6,327.1 99.0,329.4 99.3,326.9 99.7,326.7 100.0,326.5 100.4,326.7 100.7,327.3 101.1,326.7 101.4,328.3 101.8,326.5 102.1,327.5 102.5,326.2 102.8,326.4 103.2,324.3 103.5,325.4 103.9,325.3 104.2,325.0 104.6,323.0 104.9,325.8 105.3,324.4 105.6,324.2 106.0,324.3 106.3,324.1 106.7,324.6 107.0,322.8 107.4,323.0 107.7,324.1 108.1,323.8 108.4,323.1 108.8,322.8 109.1,322.4 109.5,323.0 109.8,324.1 110.2,321.7 110.5,324.1 110.9,323.3 111.2,321.9 111.6,323.0 111.9,320.6 112.3,320.2 112.6,320.6 113.0,321.3 113.3,321.3 113.7,321.0 114.0,321.5 114.4,319.1 114.7,321.7 115.1,319.6 115.4,320.2 115.8,320.4 116.1,319.5 116.5,319.1 116.8,319.4 117.2,320.3 117.5,320.8 117.9,320.7 118.2,318.9 118.6,319.0 118.9,318.8 119.3,320.1 119.6,317.3 120.0,320.7 120.3,318.7 120.7,318.3 121.0,319.4 121.4,320.0 121.7,319.4 122.1,320.2 122.4,319.3 122.8,320.6 123.1,320.7 123.5,319.3 123.8,321.1 124.2,319.8 124.5,319.8 124.9,318.8 125.2,319.6 125.6,320.8 125.9,318.7 126.3,320.9 126.6,320.6 127.0,320.6 127.3,318.2 127.7,320.4 128.0,321.3 128.4,319.9 128.7,320.9 129.1,318.5 129.4,321.7 129.8,320.4 130.1,322.1 130.5,319.4 130.8,322.1 131.2,321.1 131.5,322.0 131.9,320.1 132.2,320.3 132.6,323.1 132.9,319.8 133.3,319.7 133.6,320.1 134.0,319.1 134.3,321.3 134.7,321.7 135.0,319.0 135.4,317.8 135.7,320.7 136.1,320.5 136.4,320.1 136.8,320.3 137.1,318.0 137.5,318.6 137.8,317.2 138.2,317.0 138.5,319.4 138.9,317.5 139.2,320.6 139.6,318.0 139.9,317.1 140.3,318.6 140.6,319.5 141.0,318.0 141.3,316.0 141.7,317.6 142.0,318.6 142.4,316.4 142.7,316.0 143.1,317.9 143.4,316.8 143.8,315.2 144.1,315.9 144.5,315.4 144.8,316.5 145.2,316.1 145.5,317.2 145.9,316.6 146.2,313.9 146.6,316.0 146.9,316.4 147.3,315.8 147.6,316.4 148.0,314.4 148.3,313.8 148.7,315.9 149.0,313.5 149.4,312.1 149.7,315.6 150.1,313.5 150.4,313.9 150.8,312.5 151.1,312.4 151.5,312.5 151.8,313.3 152.2,314.1 152.5,310.8 152.9,314.3 153.2,311.9 153.6,311.9 153.9,313.9 154.3,312.8 154.6,311.0 155.0,314.9 155.3,311.5 155.7,312.6 156.0,312.4 156.4,313.7 156.7,311.3 157.1,312.9 157.4,310.5 157.8,312.6 158.1,310.2 158.5,310.5 158.8,313.1 159.2,311.0 159.5,310.5 159.9,313.0 160.2,310.4 160.6,308.6 160.9,310.3 161.3,307.6 161.6,310.2 162.0,310.0 162.3,307.4 162.7,307.0 163.0,307.8 163.4,307.3 163.7,305.7 164.1,307.4 164.4,303.6 164.8,305.5 165.1,305.2 165.5,304.8 165.8,304.9 166.2,302.2 166.5,304.0 166.9,302.3 167.2,301.0 167.6,299.3 167.9,298.9 168.3,300.5 168.6,297.9 169.0,298.8 169.3,298.8 169.7,297.3 170.0,296.6 170.4,292.2 170.7,289.4 171.1,291.3 171.4,288.6 171.8,288.2 172.1,284.4 172.5,284.7 172.8,282.2 173.2,280.1 173.5,278.2 173.9,276.9 174.2,275.4 174.6,274.3 174.9,276.0 175.3,273.8 175.6,279.0 176.0,276.2 176.3,279.0 176.7,277.8 177.0,278.3 177.4,283.4 177.7,280.0 178.1,279.1 178.4,281.0 178.8,282.5 179.1,287.8 179.5,285.2 179.8,287.4 180.2,284.9 180.5,288.1 180.9,289.5 181.2,292.3 181.6,289.0 181.9,292.2 182.3,292.9 182.6,292.0 183.0,294.7 183.3,295.6 183.7,293.4 184.0,298.3 184.4,298.7 184.7,297.7 185.1,296.9 185.4,301.5 185.8,300.2 186.1,301.8 186.5,302.8 186.8,300.5 187.2,302.6 187.5,301.2 187.9,301.7 188.2,301.8 188.6,302.1 188.9,303.9 189.3,302.6 189.6,302.4 190.0,302.4 190.3,303.5 190.7,301.9 191.0,302.7 191.4,303.5 191.7,302.9 192.1,303.7 192.4,303.0 192.8,306.7 193.1,305.8 193.5,304.6 193.8,304.0 194.2,307.1 194.5,304.6 194.9,304.0 195.2,304.6 195.6,304.7 195.9,306.2 196.3,304.3 196.6,307.2 197.0,303.2 197.3,305.6 197.7,303.5 198.0,307.5 198.4,304.9 198.7,305.4 199.1,307.0 199.4,307.6 199.8,304.7 200.1,306.0 200.5,304.8 200.8,307.0 201.2,307.0 201.5,306.9 201.9,306.6 202.2,307.3 202.6,307.2 202.9,309.1 203.3,310.7 203.6,306.6 204.0,309.2 204.3,309.1 204.7,310.5 205.0,309.0 205.4,310.4 205.7,309.6 206.1,312.0 206.4,311.6 206.8,311.5 207.1,312.5 207.5,311.9 207.8,310.6 208.2,313.4 208.5,313.2 208.9,312.9 209.2,314.4 209.6,314.9 209.9,312.4 210.3,313.0 210.6,315.9 211.0,316.0 211.3,313.7 211.7,313.4 212.0,314.2 212.4,314.6 212.7,313.5 213.1,315.6 213.4,314.3 213.8,314.6 214.1,317.1 214.5,315.5 214.8,316.3 215.2,317.2 215.5,317.6 215.9,316.4 216.2,317.0 216.6,316.2 216.9,319.2 217.3,318.1 217.6,316.3 218.0,317.7 218.3,318.6 218.7,318.5 219.0,320.1 219.4,319.8 219.7,317.8 220.1,318.5 220.4,317.3 220.8,319.1 221.1,319.2 221.5,322.0 221.8,319.4 222.2,317.2 222.5,318.9 222.9,319.8 223.2,318.5 223.6,318.9 223.9,319.5 224.3,320.3 224.6,319.8 225.0,319.1 225.3,321.0 225.7,319.6 226.0,319.7 226.4,318.9 226.7,319.6 227.1,321.1 227.4,318.8 227.8,320.5 228.1,321.4 228.5,320.3 228.8,321.0 229.2,319.7 229.5,322.2 229.9,322.1 230.2,321.2 230.6,319.2 230.9,320.0 231.3,322.2 231.6,323.0 232.0,321.6 232.3,322.6 232.7,320.8 233.0,321.3 233.4,321.5 233.7,322.0 234.1,320.1 234.4,322.7 234.8,323.1 235.1,320.7 235.5,320.5 235.8,322.3 236.2,321.3 236.5,319.5 236.9,322.8 237.2,322.1 237.6,321.5 237.9,324.1 238.3,322.2 238.6,321.3 239.0,322.1 239.3,321.0 239.7,321.3 240.0,322.5 240.4,321.5 240.7,321.7 241.1,323.8 241.4,323.0 241.8,323.0 242.1,322.7 242.5,322.7 242.8,323.7 243.2,322.2 243.5,324.1 243.9,321.3 244.2,322.0 244.6,320.9 244.9,321.9 245.3,322.8 245.6,323.8 246.0,321.7 246.3,322.4 246.7,322.0 247.0,321.6 247.4,321.2 247.7,322.5 248.1,320.7 248.4,322.5 248.8,322.5 249.1,321.8 249.5,321.5 249.8,321.1 250.2,324.4 250.5,321.1 250.9,324.0 251.2,323.1 251.6,322.1 251.9,321.3 252.3,323.5 252.6,324.2 253.0,321.5 253.3,322.1 253.7,323.5 254.0,322.8 254.4,324.4 254.7,321.8 255.1,322.9 255.4,321.1 255.8,324.5 256.1,321.6 256.5,320.2 256.8,322.2 257.2,322.2 257.5,324.3 257.9,322.0 258.2,322.3 258.6,322.9 258.9,323.9 259.3,322.3 259.6,323.4 260.0,322.8 260.3,322.0 260.7,322.5 261.0,322.5 261.4,321.6 261.7,323.8 262.1,321.2 262.4,323.8 262.8,323.7 263.1,322.7 263.5,322.1 263.8,322.7 264.2,323.4 264.5,323.8 264.9,323.4 265.2,324.1 265.6,322.7 265.9,323.5 266.3,321.8 266.6,324.1 267.0,323.6 267.3,323.1 267.7,324.7 268.0,324.3 268.4,320.9 268.7,323.8 269.1,322.4 269.4,324.9 269.8,326.3 270.1,323.5 270.5,324.1 270.8,323.8 271.2,324.4 271.5,324.7 271.9,325.4 272.2,323.2 272.6,325.7 272.9,323.3 273.3,324.5 273.6,325.4 274.0,325.0 274.3,323.4 274.7,323.6 275.0,323.9 275.4,324.3 275.7,325.5 276.1,323.2 276.4,324.9 276.8,325.1 277.1,325.0 277.5,325.0 277.8,326.0 278.2,325.0 278.5,325.4 278.9,325.2 279.2,326.4 279.6,322.9 279.9,325.9 280.3,324.5 280.6,324.5 281.0,323.9 281.3,323.0 281.7,324.5 282.0,324.2 282.4,325.4 282.7,323.5 283.1,326.3 283.4,325.2 283.8,324.8 284.1,324.3 284.5,324.2 284.8,323.9 285.2,324.4 285.5,324.9 285.9,324.7 286.2,323.5 286.6,324.5 286.9,323.9 287.3,324.9 287.6,326.5 288.0,325.3 288.3,324.4 288.7,323.1 289.0,323.3 289.4,323.0 289.7,325.3 290.1,323.8 290.4,324.6 290.8,323.9 291.1,324.6 291.5,325.8 291.8,323.8 292.2,324.1 292.5,323.6 292.9,325.2 293.2,323.3 293.6,323.2 293.9,322.9 294.3,322.9 294.6,324.7 295.0,326.7 295.3,323.2 295.7,325.1 296.0,324.3 296.4,323.0 296.7,323.8 297.1,323.8 297.4,323.3 297.8,325.8 298.1,322.1 298.5,324.3 298.8,324.2 299.2,323.3 299.5,323.9 299.9,324.6 300.2,323.9 300.6,324.1 300.9,324.3 301.3,321.6 301.6,325.0 302.0,325.8 302.3,324.5 302.7,324.5 303.0,322.1 303.4,323.3 303.7,322.6 304.1,322.8 304.4,324.2 304.8,322.5 305.1,323.1 305.5,321.3 305.8,323.0 306.2,323.2 306.5,322.4 306.9,322.3 307.2,324.9 307.6,321.8 307.9,321.9 308.3,322.1 308.6,324.1 309.0,324.9 309.3,323.1 309.7,322.0 310.0,322.2 310.4,323.6 310.7,321.5 311.1,323.8 311.4,323.7 311.8,322.2 312.1,322.7 312.5,322.7 312.8,323.5 313.2,320.7 313.5,322.9 313.9,321.2 314.2,320.7 314.6,321.5 314.9,321.1 315.3,320.2 315.6,319.5 316.0,320.1 316.3,322.5 316.7,322.9 317.0,321.5 317.4,321.9 317.7,320.1 318.1,320.4 318.4,320.7 318.8,319.2 319.1,319.2 319.5,320.3 319.8,319.8 320.2,318.9 320.5,320.4 320.9,319.6 321.2,320.9 321.6,319.7 321.9,319.3 322.3,319.7 322.6,319.3 323.0,318.8 323.3,319.3 323.7,320.7 324.0,320.8 324.4,321.7 324.7,318.8 325.1,320.4 325.4,320.6 325.8,321.4 326.1,321.0 326.5,321.2 326.8,322.7 327.2,322.2 327.5,320.9 327.9,323.5 328.2,323.3 328.6,321.8 328.9,323.3 329.3,321.8 329.6,323.7 330.0,322.5 330.3,322.0 330.7,322.5 331.0,322.2 331.4,323.2 331.7,323.3 332.1,323.2 332.4,322.7 332.8,319.8 333.1,323.5 333.5,321.7 333.8,323.9 334.2,324.8 334.5,324.1 334.9,323.5 335.2,323.8 335.6,323.9 335.9,323.6 336.3,323.7 336.6,323.4 337.0,325.5 337.3,324.5 337.7,325.5 338.0,324.4 338.4,324.7 338.7,324.6 339.1,325.3 339.4,325.7 339.8,325.2 340.1,324.4 340.5,324.4 340.8,326.7 341.2,325.0 341.5,325.0 341.9,326.8 342.2,326.5 342.6,326.0 342.9,325.2 343.3,327.9 343.6,326.1 344.0,326.3 344.3,325.7 344.7,324.6 345.0,324.8 345.4,326.4 345.7,326.5 346.1,326.0 346.4,325.2 346.8,325.0 347.1,326.1 347.5,325.1 347.8,327.3 348.2,327.5 348.5,329.1 348.9,327.3 349.2,326.0 349.6,325.8 349.9,323.4 350.3,326.1 350.6,326.5 351.0,327.6 351.3,327.3 351.7,327.3 352.0,327.0 352.4,327.4 352.7,328.1 353.1,325.9 353.4,326.4 353.8,325.6 354.1,328.4 354.5,328.1 354.8,327.6 355.2,325.9 355.5,327.2 355.9,326.8 356.2,327.1 356.6,326.9 356.9,327.6 357.3,326.8 357.6,327.9 358.0,327.4 358.3,326.9 358.7,327.1 359.0,326.9 359.4,328.0 359.7,327.1 360.1,327.6 360.4,327.0 360.8,326.0 361.1,328.2 361.5,326.5 361.8,328.1 362.2,327.9 362.5,326.0 362.9,326.7 363.2,327.1 363.6,326.8 363.9,326.5 364.3,328.3 364.6,327.4 365.0,328.0 365.3,327.3 365.7,328.0 366.0,327.0 366.4,327.7 366.7,328.3 367.1,327.8 367.4,327.4 367.8,326.8 368.1,328.0 368.5,328.2 368.8,327.7 369.2,327.2 369.5,328.4 369.9,330.2 370.2,327.7 370.6,328.3 370.9,328.3 371.3,325.7 371.6,328.2 372.0,327.4 372.3,329.3 372.7,327.9 373.0,327.4 373.4,328.0 373.7,328.3 374.1,327.7 374.4,328.2 374.8,327.0 375.1,328.1 375.5,329.0 375.8,330.0 376.2,328.9 376.5,328.6 376.9,329.4 377.2,329.3 377.6,329.9 377.9,329.4 378.3,328.4 378.6,328.7 379.0,328.7 379.3,328.8 379.7,328.8 380.0,327.9 380.4,326.8 380.7,328.1 381.1,326.9 381.4,328.8 381.8,328.7 382.1,327.3 382.5,329.4 382.8,329.6 383.2,328.9 383.5,330.3 383.9,330.5 384.2,327.9 384.6,329.9 384.9,329.4 385.3,329.4"/><polyline class="c" stroke="#111" stroke-width="1.7" points="72.3,431.0 72.8,430.1 73.3,430.2 73.8,430.1 74.3,430.2 74.8,430.7 75.3,429.9 75.8,430.2 76.3,431.2 76.8,430.9 77.3,431.2 77.8,429.9 78.3,430.6 78.8,430.8 79.3,431.2 79.8,430.9 80.3,431.8 80.8,431.3 81.3,431.4 81.8,431.4 82.3,431.9 82.8,431.2 83.3,432.2 83.8,431.8 84.3,431.5 84.8,431.3 85.3,431.5 85.8,431.8 86.3,431.6 86.8,431.2 87.3,431.4 87.8,430.9 88.3,431.5 88.8,430.6 89.3,429.3 89.8,431.3 90.3,430.5 90.8,429.6 91.3,430.1 91.8,429.6 92.3,431.3 92.8,430.3 93.3,428.9 93.8,430.1 94.3,429.5 94.8,430.8 95.3,428.9 95.8,428.1 96.3,429.4 96.8,429.1 97.3,429.0 97.8,427.8 98.3,429.3 98.8,430.0 99.3,427.7 99.8,429.5 100.3,428.4 100.8,430.0 101.3,428.8 101.8,428.3 102.3,429.0 102.8,428.6 103.3,427.9 103.8,428.6 104.3,427.9 104.8,427.0 105.3,429.3 105.8,427.8 106.3,427.6 106.8,428.1 107.3,426.9 107.8,427.0 108.3,427.5 108.8,427.4 109.3,427.7 109.8,428.3 110.3,427.3 110.8,427.8 111.3,427.8 111.8,426.8 112.3,427.5 112.8,426.8 113.3,427.9 113.8,427.5 114.3,427.2 114.8,426.3 115.3,427.1 115.8,426.6 116.3,427.4 116.8,426.8 117.3,426.4 117.8,427.4 118.3,427.2 118.8,426.4 119.3,427.4 119.8,426.4 120.3,426.4 120.8,426.6 121.3,426.0 121.8,426.1 122.3,426.3 122.8,427.2 123.3,427.2 123.8,426.0 124.3,427.1 124.8,426.1 125.3,426.2 125.8,426.5 126.3,426.1 126.8,427.3 127.3,425.9 127.8,425.0 128.3,426.4 128.8,425.3 129.3,425.3 129.8,423.7 130.3,426.0 130.8,425.8 131.3,425.7 131.8,425.8 132.3,426.1 132.8,425.0 133.3,425.6 133.8,424.5 134.3,424.7 134.8,425.5 135.3,425.0 135.8,423.9 136.3,424.8 136.8,424.5 137.3,424.0 137.8,424.7 138.3,424.1 138.8,423.4 139.3,423.6 139.8,425.2 140.3,423.2 140.8,424.2 141.3,424.4 141.8,424.3 142.3,423.1 142.8,423.6 143.3,423.8 143.8,424.1 144.3,423.2 144.8,422.8 145.3,424.0 145.8,424.0 146.3,423.4 146.8,422.7 147.3,423.2 147.8,422.9 148.3,423.2 148.8,421.8 149.3,422.5 149.8,422.2 150.3,421.6 150.8,422.2 151.3,422.0 151.8,421.6 152.3,422.0 152.8,420.8 153.3,421.5 153.8,421.6 154.3,421.4 154.8,421.8 155.3,420.3 155.8,420.0 156.3,420.9 156.8,420.9 157.3,421.8 157.8,420.8 158.3,419.8 158.8,420.6 159.3,419.5 159.8,419.0 160.3,421.2 160.8,419.6 161.3,419.6 161.8,419.3 162.3,419.8 162.8,418.6 163.3,418.9 163.8,417.4 164.3,416.9 164.8,418.3 165.3,418.1 165.8,417.3 166.3,416.9 166.8,416.6 167.3,415.8 167.8,416.9 168.3,416.1 168.8,415.7 169.3,415.3 169.8,415.3 170.3,414.7 170.8,414.5 171.3,413.0 171.8,413.7 172.3,414.3 172.8,412.3 173.3,412.2 173.8,412.5 174.3,412.1 174.8,411.6 175.3,409.9 175.8,410.9 176.3,409.6 176.8,409.5 177.3,410.0 177.8,409.2 178.3,409.5 178.8,410.5 179.3,408.6 179.8,408.1 180.3,406.6 180.8,406.3 181.3,405.4 181.8,404.8 182.3,403.3 182.8,402.0 183.3,400.3 183.8,397.3 184.3,393.9 184.8,390.2 185.3,386.9 185.8,381.8 186.3,377.3 186.8,372.3 187.3,367.2 187.8,365.1 188.2,363.1 188.3,365.4 188.8,366.4 189.3,369.0 189.8,373.2 190.3,379.3 190.8,383.1 191.3,388.6 191.8,393.7 192.3,397.0 192.8,399.6 193.3,402.9 193.8,403.6 194.3,405.9 194.8,406.6 195.3,407.3 195.8,408.7 196.3,408.4 196.8,410.6 197.3,409.4 197.8,411.2 198.3,409.6 198.8,410.8 199.3,409.7 199.8,409.6 200.3,410.5 200.8,410.6 201.3,409.1 201.8,410.1 202.3,408.1 202.8,407.7 203.3,406.6 203.8,405.4 204.3,402.5 204.8,403.1 205.3,401.4 205.8,400.3 206.0,400.0 206.3,399.9 206.8,401.2 207.3,404.0 207.8,405.4 208.3,406.9 208.8,409.1 209.3,412.0 209.8,412.3 210.3,413.4 210.8,415.6 211.3,416.0 211.8,416.5 212.3,416.7 212.8,416.6 213.3,417.3 213.8,418.2 214.3,418.7 214.8,419.4 215.3,419.9 215.8,420.0 216.3,420.3 216.8,419.7 217.3,419.2 217.8,420.3 218.3,420.2 218.8,420.6 219.3,421.0 219.8,420.5 220.3,420.8 220.8,421.5 221.3,421.8 221.8,421.5 222.3,422.3 222.8,422.0 223.3,421.7 223.8,422.4 224.3,423.7 224.8,422.3 225.3,423.5 225.8,423.7 226.3,423.8 226.8,422.5 227.3,424.2 227.8,423.1 228.3,423.0 228.8,423.0 229.3,423.6 229.8,423.3 230.3,423.2 230.8,424.2 231.3,423.0 231.8,422.9 232.3,424.0 232.8,424.0 233.3,424.3 233.8,423.1 234.3,424.4 234.8,424.1 235.3,424.9 235.8,423.2 236.3,424.1 236.8,423.8 237.3,423.1 237.8,423.7 238.3,424.8 238.8,423.8 239.3,423.6 239.8,424.5 240.3,424.6 240.8,424.5 241.3,423.4 241.8,423.8 242.3,424.4 242.8,423.3 243.3,423.1 243.8,424.0 244.3,424.3 244.8,422.6 245.3,421.6 245.8,422.2 246.3,422.3 246.8,422.7 247.3,423.1 247.8,422.7 248.3,422.6 248.8,423.3 249.3,422.8 249.8,423.6 250.3,423.4 250.8,425.6 251.3,424.6 251.8,423.8 252.3,423.9 252.8,424.3 253.3,423.7 253.8,424.4 254.3,424.5 254.8,425.6 255.3,425.0 255.8,424.9 256.3,424.7 256.8,424.9 257.3,425.7 257.8,425.7 258.3,426.7 258.8,425.7 259.3,426.8 259.8,426.3 260.3,426.2 260.8,425.0 261.3,425.5 261.8,426.7 262.3,427.1 262.8,426.4 263.3,426.8 263.8,426.1 264.3,426.2 264.8,426.0 265.3,427.0 265.8,426.7 266.3,426.3 266.8,426.3 267.3,426.9 267.8,426.7 268.3,426.1 268.8,427.6 269.3,426.8 269.8,426.6 270.3,427.5 270.8,427.3 271.3,426.7 271.8,427.1 272.3,426.1 272.8,426.3 273.3,425.3 273.8,427.4 274.3,425.5 274.8,427.0 275.3,426.1 275.8,425.9 276.3,426.4 276.8,426.6 277.3,426.8 277.8,427.5 278.3,426.6 278.8,426.9 279.3,426.0 279.8,426.7 280.3,426.3 280.8,425.9 281.3,426.1 281.8,426.1 282.3,426.2 282.8,426.3 283.3,425.8 283.8,425.6 284.3,426.4 284.8,425.0 285.3,425.6 285.8,426.8 286.3,424.3 286.8,425.4 287.3,426.2 287.8,424.8 288.3,427.3 288.8,424.2 289.3,426.6 289.8,426.6 290.3,426.2 290.8,425.5 291.3,425.8 291.8,425.1 292.3,426.1 292.8,425.0 293.3,425.5 293.8,426.3 294.3,425.1 294.8,425.6 295.3,425.9 295.8,425.1 296.3,426.6 296.8,426.2 297.3,425.1 297.8,426.0 298.3,425.6 298.8,425.7 299.3,426.2 299.8,425.7 300.3,426.7 300.8,425.6 301.3,426.6 301.8,425.9 302.3,426.4 302.8,425.5 303.3,425.4 303.8,425.0 304.3,425.9 304.8,426.1 305.3,426.7 305.8,426.2 306.3,425.5 306.8,425.1 307.3,425.4 307.8,425.1 308.3,425.9 308.8,425.5 309.3,424.4 309.8,424.4 310.3,425.6 310.8,424.8 311.3,424.4 311.8,425.2 312.3,424.2 312.8,424.2 313.3,424.0 313.8,423.0 314.3,424.6 314.8,423.3 315.3,423.6 315.8,423.4 316.3,424.2 316.8,423.6 317.3,423.6 317.8,422.5 318.3,423.4 318.8,422.5 319.3,423.4 319.8,423.4 320.3,423.1 320.8,424.2 321.3,423.3 321.8,423.4 322.3,423.2 322.8,423.0 323.3,423.8 323.8,423.9 324.3,422.5 324.8,424.0 325.3,423.7 325.8,424.0 326.3,423.7 326.8,422.8 327.3,422.9 327.8,424.7 328.3,423.8 328.8,422.9 329.3,424.0 329.8,423.6 330.3,422.8 330.8,422.6 331.3,423.1 331.8,424.3 332.3,424.1 332.8,424.1 333.3,424.4 333.8,424.7 334.3,423.1 334.8,424.3 335.3,424.0 335.8,423.9 336.3,424.3 336.8,424.6 337.3,424.6 337.8,424.0 338.3,424.6 338.8,426.1 339.3,424.3 339.8,424.0 340.3,425.2 340.8,425.4 341.3,425.3 341.8,424.4 342.3,425.7 342.8,424.6 343.3,424.4 343.8,424.8 344.3,425.1 344.8,425.6 345.3,425.6 345.8,425.2 346.3,425.8 346.8,425.3 347.3,425.8 347.8,424.5 348.3,424.4 348.8,425.8 349.3,424.6 349.8,425.2 350.3,425.4 350.8,425.2 351.3,425.2 351.8,426.3 352.3,424.0 352.8,426.1 353.3,427.0 353.8,425.6 354.3,425.7 354.8,426.1 355.3,426.9 355.8,425.1 356.3,425.9 356.8,425.8 357.3,426.3 357.8,426.1 358.3,426.4 358.8,425.8 359.3,426.1 359.8,425.8 360.3,425.8 360.8,426.2 361.3,426.2 361.8,425.6 362.3,427.3 362.8,426.4 363.3,425.7 363.8,427.2 364.3,426.1 364.8,426.9 365.3,426.7 365.8,426.9 366.3,426.9 366.8,426.4 367.3,426.8 367.8,428.0 368.3,425.5 368.8,426.9 369.3,427.1 369.8,426.3 370.3,426.1 370.8,428.2 371.3,426.7 371.8,428.2 372.3,427.3 372.8,427.1 373.3,427.3 373.8,427.4 374.3,427.8 374.8,427.3 375.3,427.2 375.8,427.2 376.3,427.9 376.8,427.6 377.3,426.6 377.8,426.8 378.3,427.4 378.8,426.8 379.3,427.0 379.8,426.7 380.3,427.1 380.8,427.5 381.3,427.9 381.8,427.3 382.3,428.6 382.8,427.3 383.3,429.3 383.8,428.0 384.3,427.7 384.8,427.1 385.3,425.8 385.8,427.4 386.3,427.6"/><polyline class="c" stroke="#111" stroke-width="1.7" points="73.8,540.6 74.0,535.7 74.3,540.7 74.5,537.6 74.8,539.1 75.0,534.3 75.3,538.4 75.5,537.7 75.8,539.3 76.0,538.5 76.3,536.7 76.5,540.0 76.8,539.6 77.0,539.6 77.3,540.3 77.5,540.5 77.8,538.9 78.0,536.9 78.3,537.0 78.5,541.2 78.8,540.3 79.0,539.4 79.3,538.7 79.5,539.5 79.8,539.6 80.0,539.1 80.3,538.6 80.5,543.0 80.8,540.2 81.0,539.0 81.3,538.0 81.5,538.9 81.8,541.1 82.0,541.1 82.3,539.7 82.5,540.1 82.8,539.5 83.0,538.3 83.3,542.0 83.5,540.6 83.8,543.7 84.0,538.9 84.3,539.8 84.5,541.3 84.8,539.6 85.0,537.9 85.3,538.6 85.5,540.2 85.8,540.5 86.0,539.9 86.3,541.5 86.5,541.5 86.8,540.5 87.0,540.0 87.3,539.5 87.5,540.6 87.8,540.9 88.0,539.5 88.3,539.9 88.5,538.5 88.8,536.7 89.0,537.1 89.3,539.6 89.5,538.9 89.8,540.5 90.0,538.0 90.3,539.0 90.5,539.5 90.8,538.8 91.0,536.3 91.3,536.7 91.5,537.0 91.8,535.1 92.0,537.1 92.3,537.8 92.5,535.3 92.8,538.8 93.0,535.2 93.3,535.2 93.5,534.9 93.8,534.0 94.0,535.5 94.3,534.7 94.5,536.9 94.8,535.1 95.0,534.8 95.3,533.4 95.5,531.4 95.8,533.2 96.0,531.8 96.3,534.4 96.5,532.7 96.8,535.1 97.0,533.5 97.3,533.4 97.5,532.3 97.8,532.0 98.0,532.5 98.3,532.8 98.5,529.9 98.8,531.7 99.0,535.0 99.3,530.4 99.5,529.9 99.8,529.0 100.0,527.6 100.3,531.9 100.5,529.8 100.8,530.0 101.0,532.5 101.3,533.5 101.5,527.5 101.8,530.7 102.0,529.8 102.3,529.2 102.5,529.2 102.8,528.2 103.0,530.8 103.3,529.0 103.5,528.3 103.8,529.8 104.0,529.0 104.3,528.0 104.5,527.7 104.8,530.2 105.0,527.8 105.3,526.7 105.5,525.2 105.8,526.0 106.0,524.6 106.3,526.6 106.5,526.8 106.8,522.5 107.0,526.2 107.3,527.3 107.5,526.3 107.8,524.1 108.0,528.2 108.3,524.4 108.5,523.3 108.8,523.5 109.0,525.4 109.3,527.2 109.5,527.4 109.8,525.5 110.0,522.8 110.3,523.7 110.5,523.1 110.8,524.4 111.0,521.3 111.3,524.8 111.5,525.7 111.8,524.1 112.0,525.2 112.3,522.4 112.5,521.3 112.8,522.9 113.0,526.3 113.3,526.0 113.5,523.0 113.8,526.2 114.0,523.2 114.3,526.7 114.5,524.6 114.8,522.7 115.0,525.1 115.3,521.9 115.5,521.6 115.8,520.5 116.0,523.8 116.3,523.1 116.5,523.0 116.8,522.3 117.0,525.9 117.3,522.1 117.5,521.5 117.8,525.3 118.0,525.6 118.3,523.4 118.5,519.2 118.8,521.4 119.0,523.8 119.3,522.5 119.5,525.6 119.8,519.6 120.0,523.7 120.3,521.0 120.5,524.9 120.8,521.9 121.0,524.1 121.3,520.7 121.5,519.0 121.8,519.6 122.0,520.5 122.3,519.6 122.5,524.1 122.8,524.4 123.0,522.1 123.3,519.3 123.5,521.2 123.8,519.9 124.0,524.3 124.3,521.9 124.5,522.2 124.8,520.3 125.0,516.8 125.3,519.4 125.5,518.6 125.8,521.6 126.0,521.0 126.3,519.0 126.5,519.8 126.8,523.9 127.0,518.5 127.3,518.5 127.5,519.8 127.8,518.7 128.1,519.2 128.3,521.1 128.6,523.5 128.8,515.9 129.1,519.5 129.3,519.5 129.6,519.1 129.8,518.8 130.1,518.3 130.3,521.1 130.6,517.8 130.8,518.4 131.1,518.6 131.3,518.7 131.6,517.9 131.8,520.4 132.1,518.1 132.3,518.3 132.6,517.7 132.8,515.5 133.1,515.7 133.3,515.1 133.6,517.8 133.8,515.6 134.1,514.7 134.3,517.5 134.6,518.0 134.8,512.7 135.1,520.4 135.3,516.5 135.6,516.1 135.8,518.7 136.1,516.2 136.3,514.6 136.6,520.9 136.8,513.2 137.1,515.4 137.3,517.4 137.6,512.8 137.8,515.0 138.1,516.0 138.3,520.6 138.6,512.7 138.8,514.6 139.1,516.2 139.3,514.7 139.6,511.5 139.8,515.2 140.1,514.4 140.3,515.1 140.6,516.6 140.8,516.2 141.1,514.6 141.3,514.2 141.6,510.7 141.8,512.9 142.1,513.7 142.3,512.0 142.6,513.1 142.8,510.6 143.1,516.2 143.3,517.5 143.6,511.0 143.8,512.8 144.1,510.9 144.3,514.5 144.6,512.2 144.8,511.1 145.1,510.1 145.3,510.8 145.6,507.6 145.8,511.7 146.1,507.9 146.3,510.9 146.6,509.7 146.8,512.0 147.1,508.8 147.3,511.4 147.6,506.0 147.8,509.8 148.1,507.4 148.3,508.3 148.6,507.8 148.8,509.9 149.1,501.7 149.3,507.8 149.6,502.6 149.8,509.8 150.1,500.8 150.3,502.9 150.6,500.4 150.8,509.2 151.1,500.3 151.3,503.7 151.6,501.2 151.8,496.9 152.1,500.6 152.3,503.0 152.6,499.9 152.8,502.9 153.1,498.5 153.3,499.3 153.6,497.6 153.8,499.5 154.1,504.0 154.3,498.8 154.6,497.9 154.8,494.9 155.1,494.0 155.3,500.7 155.6,492.1 155.8,492.3 156.1,494.5 156.3,493.1 156.6,500.5 156.8,485.8 157.1,494.5 157.3,495.3 157.6,488.7 157.8,489.9 158.1,493.2 158.3,496.9 158.6,487.8 158.8,485.1 159.1,493.5 159.3,495.1 159.6,488.2 159.8,481.2 160.1,493.7 160.3,487.5 160.6,491.9 160.8,487.3 161.1,485.7 161.3,485.0 161.6,491.6 161.8,491.1 162.1,477.8 162.3,481.7 162.6,491.1 162.8,483.0 163.1,479.1 163.3,483.6 163.6,482.8 163.8,482.4 164.1,480.7 164.3,480.9 164.6,480.0 164.8,482.4 165.1,477.9 165.3,479.4 165.6,479.5 165.8,484.3 166.1,480.6 166.3,478.5 166.6,480.4 166.8,479.5 167.1,481.6 167.3,479.1 167.6,483.4 167.8,481.3 168.1,476.1 168.3,474.5 168.6,478.9 168.8,477.4 169.1,474.9 169.3,469.7 169.6,468.2 169.8,475.8 170.1,477.1 170.3,476.9 170.6,469.2 170.8,477.3 171.1,471.4 171.3,474.5 171.6,474.3 171.8,469.7 172.1,470.2 172.3,464.6 172.6,468.5 172.8,465.1 173.1,473.0 173.3,471.5 173.6,474.4 173.8,472.3 174.1,468.6 174.3,472.0 174.6,469.2 174.8,472.7 175.1,471.5 175.3,466.7 175.6,470.1 175.8,470.2 176.1,468.7 176.3,472.9 176.6,475.7 176.8,468.2 177.1,468.5 177.3,461.8 177.6,469.6 177.8,468.7 178.1,462.6 178.3,471.6 178.6,472.9 178.8,468.3 179.1,469.8 179.3,467.8 179.6,474.2 179.8,466.2 180.1,470.7 180.3,479.0 180.6,472.3 180.8,474.0 181.1,472.0 181.3,468.4 181.6,472.7 181.8,474.5 182.1,469.6 182.3,474.8 182.6,478.3 182.8,477.9 183.1,468.7 183.3,471.1 183.6,469.1 183.8,479.0 184.1,477.6 184.3,478.2 184.6,472.8 184.8,472.0 185.1,476.8 185.3,477.1 185.6,474.0 185.8,477.8 186.1,479.9 186.3,478.7 186.6,474.4 186.8,470.8 187.1,477.7 187.3,479.5 187.6,478.3 187.8,478.0 188.1,477.3 188.3,482.7 188.6,480.2 188.8,481.1 189.1,477.5 189.3,479.0 189.6,482.1 189.8,478.2 190.1,477.6 190.3,481.2 190.6,487.0 190.8,483.6 191.1,488.5 191.3,483.0 191.6,482.7 191.8,479.1 192.1,482.3 192.3,489.9 192.6,486.3 192.8,488.1 193.1,488.4 193.3,486.2 193.6,485.8 193.8,487.3 194.1,489.7 194.3,489.3 194.6,489.7 194.8,488.9 195.1,486.0 195.3,488.1 195.6,486.1 195.8,493.3 196.1,482.8 196.3,489.7 196.6,499.1 196.8,490.0 197.1,487.7 197.3,491.9 197.6,496.7 197.8,492.3 198.1,495.3 198.3,493.9 198.6,492.8 198.8,504.8 199.1,495.1 199.3,493.5 199.6,494.1 199.8,497.3 200.1,497.8 200.3,499.3 200.6,497.7 200.8,493.2 201.1,499.8 201.3,497.5 201.6,497.9 201.8,494.6 202.1,497.7 202.3,497.6 202.6,500.0 202.8,496.0 203.1,500.9 203.3,501.4 203.6,498.0 203.8,499.8 204.1,499.5 204.3,505.0 204.6,495.3 204.8,501.9 205.1,498.5 205.3,502.3 205.6,506.3 205.8,502.4 206.1,504.9 206.3,502.5 206.6,510.6 206.8,508.0 207.1,508.9 207.3,502.5 207.6,503.4 207.8,509.6 208.1,506.3 208.3,506.3 208.6,508.0 208.8,503.9 209.1,509.5 209.3,507.7 209.6,509.1 209.8,506.2 210.1,509.5 210.3,506.4 210.6,511.0 210.8,511.6 211.1,511.2 211.3,510.3 211.6,510.8 211.8,502.2 212.1,511.6 212.3,508.9 212.6,510.0 212.8,509.2 213.1,506.5 213.3,508.9 213.6,512.1 213.8,514.2 214.1,509.2 214.3,508.6 214.6,514.8 214.8,509.0 215.1,516.7 215.3,511.7 215.6,509.5 215.8,514.3 216.1,516.1 216.3,508.4 216.6,516.0 216.8,511.5 217.1,516.0 217.3,511.5 217.6,508.7 217.8,513.9 218.1,515.0 218.3,518.0 218.6,517.2 218.8,514.8 219.1,512.6 219.3,512.0 219.6,512.7 219.8,511.5 220.1,512.9 220.3,507.6 220.6,514.2 220.8,513.8 221.1,520.2 221.3,515.9 221.6,513.1 221.8,515.7 222.1,511.5 222.3,513.1 222.6,510.2 222.8,518.2 223.1,516.3 223.3,512.2 223.6,514.9 223.8,517.3 224.1,516.3 224.3,516.2 224.6,513.3 224.8,513.9 225.1,515.7 225.3,517.7 225.6,513.7 225.8,513.2 226.1,518.5 226.3,513.8 226.6,518.5 226.8,516.6 227.1,518.2 227.3,520.3 227.6,517.9 227.8,518.2 228.1,514.4 228.3,515.0 228.6,518.1 228.8,520.2 229.1,520.0 229.3,522.2 229.6,517.7 229.8,517.5 230.1,519.4 230.3,517.3 230.6,517.2 230.8,515.0 231.1,519.7 231.3,515.2 231.6,518.8 231.8,514.6 232.1,520.3 232.3,515.6 232.6,519.9 232.8,514.6 233.1,517.2 233.3,520.9 233.6,516.6 233.8,518.6 234.1,517.5 234.3,513.5 234.6,519.4 234.8,519.7 235.1,516.4 235.3,520.2 235.6,517.3 235.8,516.9 236.1,519.2 236.3,517.8 236.6,524.3 236.8,516.1 237.1,521.1 237.3,521.7 237.6,515.5 237.8,516.1 238.1,521.1 238.3,518.9 238.6,520.8 238.8,522.5 239.1,519.3 239.3,517.9 239.6,514.5 239.8,520.8 240.1,518.4 240.3,521.1 240.6,521.0 240.8,517.7 241.1,524.3 241.3,523.0 241.6,522.5 241.8,518.3 242.1,520.0 242.3,519.8 242.6,520.1 242.8,518.7 243.1,522.0 243.3,521.7 243.6,522.0 243.8,520.3 244.1,524.0 244.3,521.8 244.6,515.8 244.8,520.2 245.1,521.5 245.3,523.7 245.6,521.1 245.8,521.3 246.1,520.5 246.3,523.2 246.6,521.0 246.8,520.7 247.1,520.5 247.3,523.2 247.6,521.0 247.8,518.7 248.1,523.4 248.3,520.8 248.6,523.0 248.8,523.0 249.1,524.8 249.3,524.5 249.6,521.2 249.8,522.1 250.1,519.9 250.3,525.9 250.6,523.4 250.8,525.4 251.1,522.0 251.3,518.5 251.6,525.8 251.8,522.9 252.1,523.1 252.3,522.9 252.6,524.2 252.8,524.0 253.1,519.8 253.3,525.2 253.6,522.0 253.8,522.2 254.1,526.6 254.3,525.0 254.6,522.6 254.8,519.6 255.1,523.7 255.3,524.5 255.6,523.3 255.8,521.0 256.1,522.0 256.3,521.1 256.6,524.1 256.8,525.3 257.1,525.8 257.3,522.4 257.6,524.3 257.8,525.0 258.1,523.0 258.3,523.7 258.6,528.2 258.8,524.5 259.1,525.9 259.3,523.4 259.6,524.3 259.8,521.0 260.1,524.3 260.3,526.7 260.6,528.5 260.8,526.7 261.1,525.8 261.3,524.6 261.6,523.4 261.8,524.2 262.1,525.8 262.3,523.1 262.6,526.4 262.8,522.8 263.1,521.3 263.3,522.8 263.6,521.6 263.8,522.1 264.1,527.0 264.3,524.5 264.6,525.3 264.8,527.1 265.1,527.3 265.3,524.0 265.6,527.5 265.8,525.7 266.1,525.0 266.3,525.9 266.6,522.4 266.8,523.6 267.1,525.0 267.3,526.3 267.6,524.5 267.8,525.0 268.1,527.1 268.3,528.0 268.6,526.8 268.8,527.8 269.1,524.6 269.3,524.8 269.6,526.0 269.8,524.9 270.1,524.5 270.3,528.6 270.6,525.2 270.8,523.7 271.1,526.5 271.3,529.0 271.6,525.8 271.8,527.9 272.1,524.8 272.3,524.7 272.6,524.4 272.8,525.4 273.1,529.1 273.3,523.6 273.6,528.8 273.8,523.9 274.1,525.3 274.3,527.3 274.6,527.0 274.8,526.3 275.1,522.7 275.3,526.5 275.6,524.0 275.8,530.7 276.1,525.5 276.3,526.3 276.6,523.8 276.8,525.1 277.1,523.6 277.3,527.8 277.6,525.5 277.8,527.1 278.1,524.8 278.3,525.1 278.6,528.4 278.8,524.3 279.1,522.7 279.3,526.9 279.6,524.0 279.8,525.3 280.1,527.8 280.3,524.7 280.6,527.8 280.8,524.9 281.1,529.0 281.3,528.7 281.6,525.4 281.8,525.9 282.1,524.7 282.3,526.7 282.6,528.4 282.8,523.7 283.1,528.0 283.3,523.9 283.6,524.8 283.8,523.1 284.1,530.3 284.3,526.5 284.6,526.9 284.8,525.2 285.1,528.4 285.3,522.6 285.6,526.6 285.8,530.6 286.1,525.8 286.3,526.6 286.6,527.8 286.8,525.1 287.1,526.7 287.3,528.4 287.6,527.0 287.8,527.3 288.1,526.0 288.3,527.3 288.6,526.8 288.8,529.4 289.1,528.1 289.3,526.3 289.6,522.3 289.8,528.1 290.1,528.2 290.3,525.1 290.6,523.2 290.8,524.7 291.1,528.5 291.3,524.9 291.6,526.0 291.8,527.3 292.1,529.1 292.3,526.8 292.6,526.7 292.8,525.9 293.1,529.9 293.3,528.8 293.6,526.7 293.8,524.4 294.1,525.5 294.3,528.0 294.6,525.6 294.8,528.6 295.1,527.6 295.3,527.5 295.6,528.2 295.8,527.9 296.1,525.4 296.3,526.4 296.6,531.2 296.8,524.8 297.1,526.2 297.3,529.0 297.6,526.7 297.8,525.6 298.1,524.6 298.3,528.0 298.6,528.9 298.8,529.6 299.1,527.2 299.3,529.0 299.6,525.2 299.8,527.4 300.1,525.9 300.3,527.4 300.6,528.5 300.8,529.1 301.1,525.3 301.3,529.4 301.6,526.3 301.8,525.3 302.1,526.9 302.3,524.5 302.6,527.2 302.8,527.7 303.1,526.8 303.3,528.2 303.6,526.6 303.8,527.2 304.1,524.6 304.3,527.3 304.6,525.7 304.8,526.4 305.1,527.1 305.3,527.6 305.6,524.3 305.8,524.5 306.1,526.7 306.3,528.1 306.6,527.9 306.8,528.9 307.1,529.7 307.3,528.2 307.6,527.3 307.8,525.5 308.1,525.6 308.3,526.5 308.6,527.8 308.8,527.8 309.1,527.4 309.3,527.1 309.6,528.5 309.8,527.8 310.1,527.9 310.3,528.0 310.6,526.4 310.8,525.6 311.1,528.3 311.3,528.2 311.6,527.1 311.8,526.7 312.1,531.6 312.3,526.1 312.6,527.1 312.8,528.0 313.1,525.4 313.3,527.7 313.6,530.7 313.8,529.2 314.1,528.7 314.3,528.6 314.6,527.8 314.8,529.3 315.1,527.3 315.3,526.9 315.6,527.8 315.8,529.3 316.1,528.3 316.3,528.9 316.6,524.1 316.8,529.9 317.1,531.9 317.3,530.2 317.6,527.2 317.8,526.3 318.1,528.3 318.3,526.1 318.6,529.1 318.8,526.9 319.1,529.6 319.3,530.3 319.6,524.3 319.8,528.5 320.1,526.7 320.3,525.5 320.6,526.9 320.8,527.6 321.1,529.9 321.3,525.4 321.6,529.9 321.8,531.6 322.1,529.2 322.3,529.1 322.6,528.1 322.8,526.1 323.1,529.1 323.3,528.9 323.6,529.5 323.8,532.7 324.1,529.5 324.3,529.0 324.6,531.0 324.8,525.9 325.1,526.3 325.3,527.7 325.6,527.2 325.8,529.6 326.1,527.8 326.3,531.4 326.6,531.1 326.8,529.8 327.1,527.8 327.3,529.5 327.6,529.9 327.8,526.6 328.1,529.1 328.3,529.8 328.6,528.9 328.8,531.3 329.1,530.7 329.3,527.2 329.6,528.8 329.8,527.2 330.1,529.7 330.3,527.2 330.6,530.3 330.8,529.4 331.1,530.4 331.3,528.5 331.6,526.2 331.8,531.8 332.1,528.5 332.3,531.2 332.6,529.6 332.8,530.0 333.1,532.0 333.3,529.5 333.6,531.3 333.8,526.3 334.1,530.4 334.3,528.5 334.6,528.7 334.8,529.0 335.1,529.6 335.3,531.9 335.6,525.8 335.8,529.1 336.1,527.8 336.3,531.1 336.6,528.4 336.8,529.9 337.1,528.5 337.3,530.3 337.6,530.9 337.8,528.5 338.1,529.3 338.3,526.8 338.6,529.8 338.8,530.7 339.1,528.3 339.3,531.2 339.6,525.8 339.8,526.2 340.1,527.0 340.3,528.6 340.6,529.5 340.8,529.3 341.1,529.3 341.3,530.7 341.6,528.7 341.8,527.4 342.1,527.4 342.3,533.2 342.6,525.6 342.8,529.3 343.1,532.1 343.3,530.5 343.6,528.3 343.8,529.7 344.1,531.2 344.3,531.8 344.6,528.2 344.8,531.1 345.1,530.2 345.3,531.7 345.6,532.2 345.8,529.3 346.1,527.4 346.3,530.6 346.6,532.9 346.8,531.1 347.1,530.3 347.3,534.0 347.6,528.2 347.8,531.5 348.1,529.1 348.3,530.1 348.6,530.2 348.8,532.6 349.1,528.5 349.3,529.2 349.6,527.5 349.8,531.0 350.1,529.4 350.3,530.9 350.6,528.4 350.8,529.7 351.1,532.0 351.3,530.0 351.6,531.4 351.8,531.2 352.1,529.8 352.3,527.8 352.6,532.0 352.8,530.7 353.1,532.1 353.3,527.1 353.6,527.7 353.8,527.0 354.1,529.1 354.3,532.3 354.6,531.5 354.8,530.5 355.1,530.8 355.3,531.9 355.6,530.1 355.8,531.3 356.1,530.9 356.3,527.1 356.6,530.1 356.8,533.0 357.1,530.1 357.3,530.6 357.6,529.8 357.8,530.0 358.1,532.7 358.3,530.4 358.6,529.2 358.8,525.8 359.1,530.0 359.3,527.7 359.6,528.0 359.8,532.3 360.1,532.2 360.3,527.9 360.6,532.4 360.8,531.8 361.1,529.8 361.3,532.3 361.6,528.5 361.8,529.2 362.1,528.8 362.3,529.3 362.6,532.6 362.8,529.0 363.1,529.3 363.3,529.7 363.6,531.6 363.8,530.7 364.1,532.7 364.3,530.1 364.6,529.2 364.8,530.5 365.1,531.4 365.3,529.8 365.6,531.8 365.8,534.3 366.1,530.4 366.3,531.5 366.6,533.6 366.8,530.4 367.1,530.1 367.3,529.7 367.6,532.1 367.8,532.3 368.1,531.3 368.3,531.6 368.6,533.6 368.8,532.9 369.1,529.3 369.3,531.6 369.6,531.8 369.8,532.8 370.1,531.3 370.3,530.6 370.6,530.9 370.8,528.8 371.1,531.6 371.3,530.7 371.6,532.5 371.8,530.1 372.1,531.0 372.3,530.2 372.6,530.1 372.8,532.9 373.1,531.1 373.3,532.5 373.6,530.0 373.8,532.0 374.1,529.2 374.3,531.1 374.6,531.1 374.8,532.8 375.1,532.2 375.3,531.7 375.6,533.3 375.8,532.3 376.1,532.8 376.3,533.2 376.6,531.9 376.8,531.6 377.1,532.6 377.3,531.4 377.6,532.7 377.8,533.8 378.1,533.5 378.3,531.5 378.6,530.1 378.8,532.1 379.1,532.0 379.3,533.9 379.6,531.6 379.8,531.9 380.1,533.4 380.3,531.5 380.6,532.0 380.8,535.0 381.1,534.6 381.3,533.3 381.6,532.8 381.8,530.8 382.1,533.2 382.3,532.5 382.6,532.7 382.8,531.6 383.1,532.4 383.3,532.2 383.6,533.0 383.8,534.7 384.1,533.1 384.3,529.9 384.6,531.0 384.8,530.1 385.1,531.3 385.3,533.4 385.6,533.2 385.8,531.7 386.1,533.0 386.3,531.5 386.6,530.4 386.8,530.5 387.1,531.4 387.3,534.9 387.6,530.6 387.8,534.7 388.1,534.8 388.3,532.5 388.6,532.7 388.8,531.8 389.1,532.8 389.3,533.8 389.6,532.9 389.8,534.4 390.1,534.7 390.3,533.4 390.6,533.4 390.8,532.8 391.1,533.5 391.3,531.2 391.6,533.6 391.8,533.3 392.1,531.7 392.3,536.3 392.6,531.5 392.8,531.7 393.1,533.5 393.3,530.1 393.6,531.9 393.8,530.8 394.1,531.7 394.3,532.9 394.6,533.7 394.8,534.9 395.1,534.4 395.3,535.0"/><polyline class="c" stroke="#1a1a1a" stroke-width="1.35" points="73.9,653.1 74.4,652.9 74.9,653.4 75.4,652.9 75.9,652.9 76.4,653.6 76.9,653.4 77.4,653.3 77.9,653.5 78.4,653.6 78.9,652.9 79.4,653.4 79.9,653.1 80.4,653.5 80.9,653.3 81.4,654.0 81.9,653.7 82.4,653.4 82.9,653.7 83.4,653.3 83.9,653.8 84.4,653.9 84.9,653.9 85.4,653.3 85.9,653.7 86.4,653.9 86.9,653.8 87.4,654.0 87.9,653.2 88.4,653.7 88.9,653.3 89.4,653.5 89.9,653.6 90.4,653.6 90.9,653.2 91.4,653.4 91.9,652.9 92.4,652.8 92.9,653.3 93.4,653.1 93.9,652.6 94.4,652.7 94.9,652.9 95.4,653.3 95.9,653.1 96.4,653.0 96.9,652.2 97.4,652.6 97.9,652.6 98.4,652.3 98.9,651.3 99.4,647.3 99.9,641.1 100.1,639.9 100.4,641.8 100.9,648.1 101.4,652.0 101.9,651.9 102.4,652.6 102.9,652.9 103.4,652.1 103.9,652.4 104.4,652.2 104.9,652.5 105.4,652.4 105.9,652.9 106.4,652.4 106.9,652.2 107.4,652.5 107.9,652.1 108.4,652.0 108.9,652.8 109.4,651.8 109.9,651.8 110.4,651.9 110.9,651.5 111.4,651.1 111.9,651.8 112.4,651.0 112.9,650.6 113.4,649.1 113.9,642.4 114.4,627.9 114.7,623.2 114.9,626.3 115.4,640.3 115.9,648.4 116.4,649.6 116.9,650.3 117.4,649.3 117.9,646.8 118.4,642.1 118.5,642.0 118.9,644.6 119.4,648.8 119.9,650.1 120.4,651.0 120.9,650.5 121.4,650.7 121.9,651.0 122.4,650.8 122.9,651.1 123.4,651.3 123.9,651.0 124.4,650.4 124.9,648.3 125.4,645.9 125.5,644.9 125.9,647.2 126.4,649.5 126.9,650.4 127.4,651.0 127.9,650.9 128.4,651.2 128.9,651.4 129.4,650.3 129.9,651.0 130.4,651.6 130.9,651.2 131.4,651.3 131.9,650.7 132.4,649.9 132.9,648.5 133.4,645.0 133.8,642.6 133.9,642.2 134.4,646.3 134.9,649.3 135.4,649.2 135.9,649.2 136.4,648.1 136.9,644.1 137.4,637.4 137.6,635.8 137.9,632.4 138.4,624.5 138.9,617.4 139.4,627.6 139.9,634.6 140.4,622.5 140.9,598.3 141.0,597.2 141.4,611.9 141.9,637.7 142.4,646.3 142.9,648.2 143.4,646.6 143.9,643.3 144.3,640.7 144.4,640.5 144.9,645.7 145.4,649.4 145.9,650.7 146.4,650.7 146.9,651.3 147.4,650.8 147.9,650.8 148.4,650.9 148.9,650.3 149.4,650.8 149.9,651.4 150.4,651.2 150.9,650.9 151.4,651.2 151.9,650.5 152.4,650.9 152.9,651.0 153.4,650.9 153.9,650.2 154.4,650.3 154.9,649.5 155.4,645.9 155.9,641.4 156.3,638.3 156.4,638.3 156.9,643.1 157.4,646.9 157.9,648.7 158.4,648.8 158.9,648.9 159.4,649.0 159.9,648.9 160.4,647.7 160.9,646.0 161.4,642.8 161.9,628.0 162.4,600.5 162.7,591.4 162.9,596.1 163.4,622.1 163.9,639.1 164.4,642.2 164.9,638.1 165.4,620.5 165.9,603.7 166.4,621.1 166.9,638.9 167.4,645.3 167.9,645.7 168.4,646.3 168.9,646.7 169.4,646.3 169.9,646.9 170.4,647.0 170.9,646.7 171.4,647.4 171.9,646.8 172.4,646.5 172.9,644.9 173.4,641.9 173.7,641.2 173.9,641.7 174.4,643.9 174.9,643.8 175.4,637.9 175.8,635.0 175.9,635.1 176.4,641.6 176.9,645.1 177.4,646.2 177.9,646.2 178.4,646.9 178.9,646.4 179.4,646.5 179.9,645.6 180.4,646.2 180.9,645.4 181.4,644.1 181.9,639.0 182.4,616.9 182.9,577.8 183.1,571.7 183.4,585.0 183.9,623.5 184.4,640.8 184.9,644.7 185.4,646.4 185.9,647.1 186.4,647.2 186.9,648.0 187.4,647.1 187.9,647.4 188.4,647.0 188.9,643.2 189.3,640.9 189.4,642.0 189.9,645.2 190.4,647.1 190.9,648.2 191.4,647.7 191.9,647.5 192.4,647.8 192.9,647.6 193.4,647.2 193.9,647.2 194.4,646.7 194.9,646.5 195.4,645.7 195.9,644.7 196.4,642.7 196.9,640.5 197.4,638.9 197.8,638.7 197.9,639.2 198.4,639.8 198.9,640.9 199.4,643.0 199.9,643.5 200.4,645.1 200.9,645.2 201.4,645.9 201.9,646.0 202.4,645.7 202.9,645.7 203.4,644.9 203.9,644.1 204.4,639.0 204.9,622.4 205.4,604.8 205.9,621.4 206.4,638.7 206.9,644.9 207.4,645.4 207.9,646.1 208.4,646.4 208.9,644.9 209.3,645.1 209.4,645.1 209.9,646.0 210.4,646.9 210.9,646.9 211.4,646.8 211.9,646.9 212.4,646.1 212.7,645.7 212.9,645.8 213.4,646.3 213.9,646.9 214.4,646.4 214.9,646.7 215.4,647.0 215.9,646.8 216.4,645.9 216.9,644.5 217.4,640.4 217.9,632.4 218.3,627.3 218.4,627.7 218.9,632.6 219.4,634.9 219.9,632.5 220.0,633.1 220.4,636.3 220.9,643.4 221.4,646.5 221.9,647.7 222.4,648.2 222.9,648.9 223.4,649.0 223.9,648.7 224.4,649.2 224.9,648.4 225.4,647.4 225.9,645.0 226.3,643.8 226.4,644.0 226.9,645.7 227.4,647.9 227.9,648.5 228.4,648.1 228.9,647.6 229.4,647.6 229.9,644.4 230.4,637.5 230.9,630.1 231.0,629.7 231.4,634.4 231.9,642.5 232.4,645.8 232.9,646.9 233.4,647.5 233.9,647.1 234.4,647.1 234.9,646.8 235.4,646.8 235.9,647.3 236.4,647.0 236.9,646.4 237.4,645.0 237.9,642.4 238.1,642.4 238.4,643.1 238.9,646.8 239.4,647.9 239.9,648.8 240.4,649.7 240.9,650.3 241.4,650.0 241.9,650.6 242.4,651.4 242.9,651.5 243.4,651.8 243.9,652.5 244.4,652.3 244.9,652.5 245.4,652.2 245.9,651.6 246.4,651.6 246.9,651.5 247.4,650.9 247.9,650.8 248.4,651.3 248.9,650.3 249.4,650.9 249.9,650.6 250.4,650.3 250.9,650.3 251.4,650.1 251.9,650.2 252.4,649.5 252.9,649.4 253.4,649.4 253.9,650.1 254.4,649.9 254.9,649.4 255.4,649.7 255.9,649.6 256.4,649.9 256.9,650.0 257.4,650.7 257.9,649.6 258.4,650.5 258.9,650.4 259.4,650.1 259.9,650.3 260.4,650.3 260.9,650.5 261.4,650.8 261.9,650.1 262.4,651.1 262.9,650.6 263.4,651.2 263.9,651.0 264.4,651.3 264.9,651.1 265.4,651.4 265.9,651.1 266.4,650.9 266.9,651.4 267.4,651.5 267.9,651.9 268.4,650.6 268.9,651.1 269.4,651.4 269.9,650.7 270.4,651.0 270.9,651.6 271.4,651.4 271.9,650.6 272.4,651.3 272.9,651.2 273.4,651.0 273.9,650.9 274.4,650.8 274.9,650.4 275.4,650.4 275.9,650.7 276.4,650.4 276.9,650.9 277.4,650.1 277.9,649.4 278.4,649.9 278.9,650.0 279.4,650.0 279.9,649.8 280.4,649.5 280.9,650.1 281.4,649.3 281.9,649.8 282.4,649.9 282.9,650.0 283.4,651.2 283.9,650.4 284.4,651.3 284.9,652.1 285.4,652.3 285.9,652.7 286.4,652.5 286.9,652.3 287.4,653.1 287.9,652.4 288.4,652.4 288.9,652.2 289.4,652.3 289.9,652.7 290.4,652.7 290.9,652.5 291.4,652.3 291.9,652.7 292.4,652.0 292.9,652.4 293.4,652.4 293.9,652.2 294.4,652.5 294.9,652.3 295.4,652.2 295.9,653.0 296.4,652.7 296.9,652.8 297.4,652.5 297.9,652.7 298.4,652.6 298.9,652.7 299.4,653.1 299.9,652.3 300.4,652.4 300.9,652.3 301.4,651.2 301.9,651.8 302.4,652.2 302.9,652.4 303.4,652.0 303.9,652.5 304.4,652.5 304.9,652.0 305.4,652.5 305.9,652.6 306.4,652.2 306.9,651.7 307.4,652.4 307.9,652.0 308.4,651.9 308.9,652.1 309.4,651.9 309.9,652.4 310.4,652.3 310.9,652.4 311.4,652.2 311.9,651.8 312.4,652.0 312.9,652.3 313.4,652.0 313.9,653.0 314.4,652.0 314.9,651.9 315.4,652.4 315.9,652.3 316.4,652.0 316.9,651.9 317.4,652.1 317.9,652.1 318.4,652.1 318.9,651.7 319.4,651.9 319.9,652.0 320.4,651.9 320.9,650.8 321.4,651.4 321.9,651.4 322.4,651.5 322.9,651.6 323.4,651.8 323.9,651.6 324.4,651.4 324.9,651.4 325.4,651.9 325.9,651.1 326.4,651.4 326.9,651.7 327.4,651.3 327.9,650.5 328.4,651.2 328.9,651.0 329.4,651.0 329.9,651.3 330.4,651.1 330.9,650.8 331.4,651.2 331.9,651.2 332.4,651.3 332.9,651.5 333.4,651.6 333.9,651.6 334.4,651.7 334.9,652.0 335.4,651.8 335.9,651.9 336.4,652.8 336.9,652.5 337.4,652.7 337.9,652.8 338.4,653.0 338.9,652.9 339.4,652.9 339.9,652.5 340.4,653.0 340.9,652.4 341.4,652.9 341.9,651.9 342.4,652.1 342.9,652.6 343.4,652.2 343.9,652.0 344.4,652.2 344.9,651.7 345.4,652.0 345.9,651.2 346.4,651.7 346.9,651.6 347.4,651.8 347.9,651.9 348.4,651.3 348.9,651.9 349.4,651.2 349.9,650.7 350.4,650.5 350.9,651.6 351.4,651.1 351.9,650.8 352.4,650.7 352.9,650.6 353.4,651.4 353.9,651.0 354.4,651.6 354.9,651.0 355.4,650.4 355.9,651.5 356.4,651.1 356.9,651.2 357.4,651.8 357.9,651.3 358.4,651.8 358.9,651.5 359.4,651.3 359.9,651.8 360.4,651.5 360.9,652.1 361.4,652.0 361.9,651.8 362.4,652.0 362.9,652.1 363.4,651.9 363.9,652.3 364.4,652.0 364.9,652.3 365.4,651.9 365.9,652.2 366.4,652.4 366.9,652.1 367.4,652.2 367.9,652.2 368.4,652.7 368.9,652.3 369.4,652.6 369.9,653.0 370.4,652.6 370.9,652.0 371.4,652.6 371.9,652.8 372.4,652.4 372.9,652.9 373.4,652.7 373.9,652.7 374.4,652.5 374.9,652.4 375.4,652.5 375.9,652.6 376.4,652.7 376.9,652.7 377.4,652.5 377.9,652.6 378.4,652.7 378.9,652.1 379.4,652.4 379.9,652.3 380.4,652.5 380.9,652.5 381.4,652.5 381.9,652.3 382.4,652.8 382.9,652.7 383.4,652.1 383.9,652.6 384.4,652.3 384.9,653.1 385.4,652.5 385.9,652.5 386.4,652.7 386.9,652.6 387.4,652.6 387.9,653.1 388.4,652.7 388.9,652.9 389.4,653.0 389.9,652.4 390.4,653.2 390.9,652.9 391.4,653.0 391.9,652.4 392.4,652.9 392.9,652.8 393.4,652.5 393.9,653.4"/></g>
</svg>
</body></html>
